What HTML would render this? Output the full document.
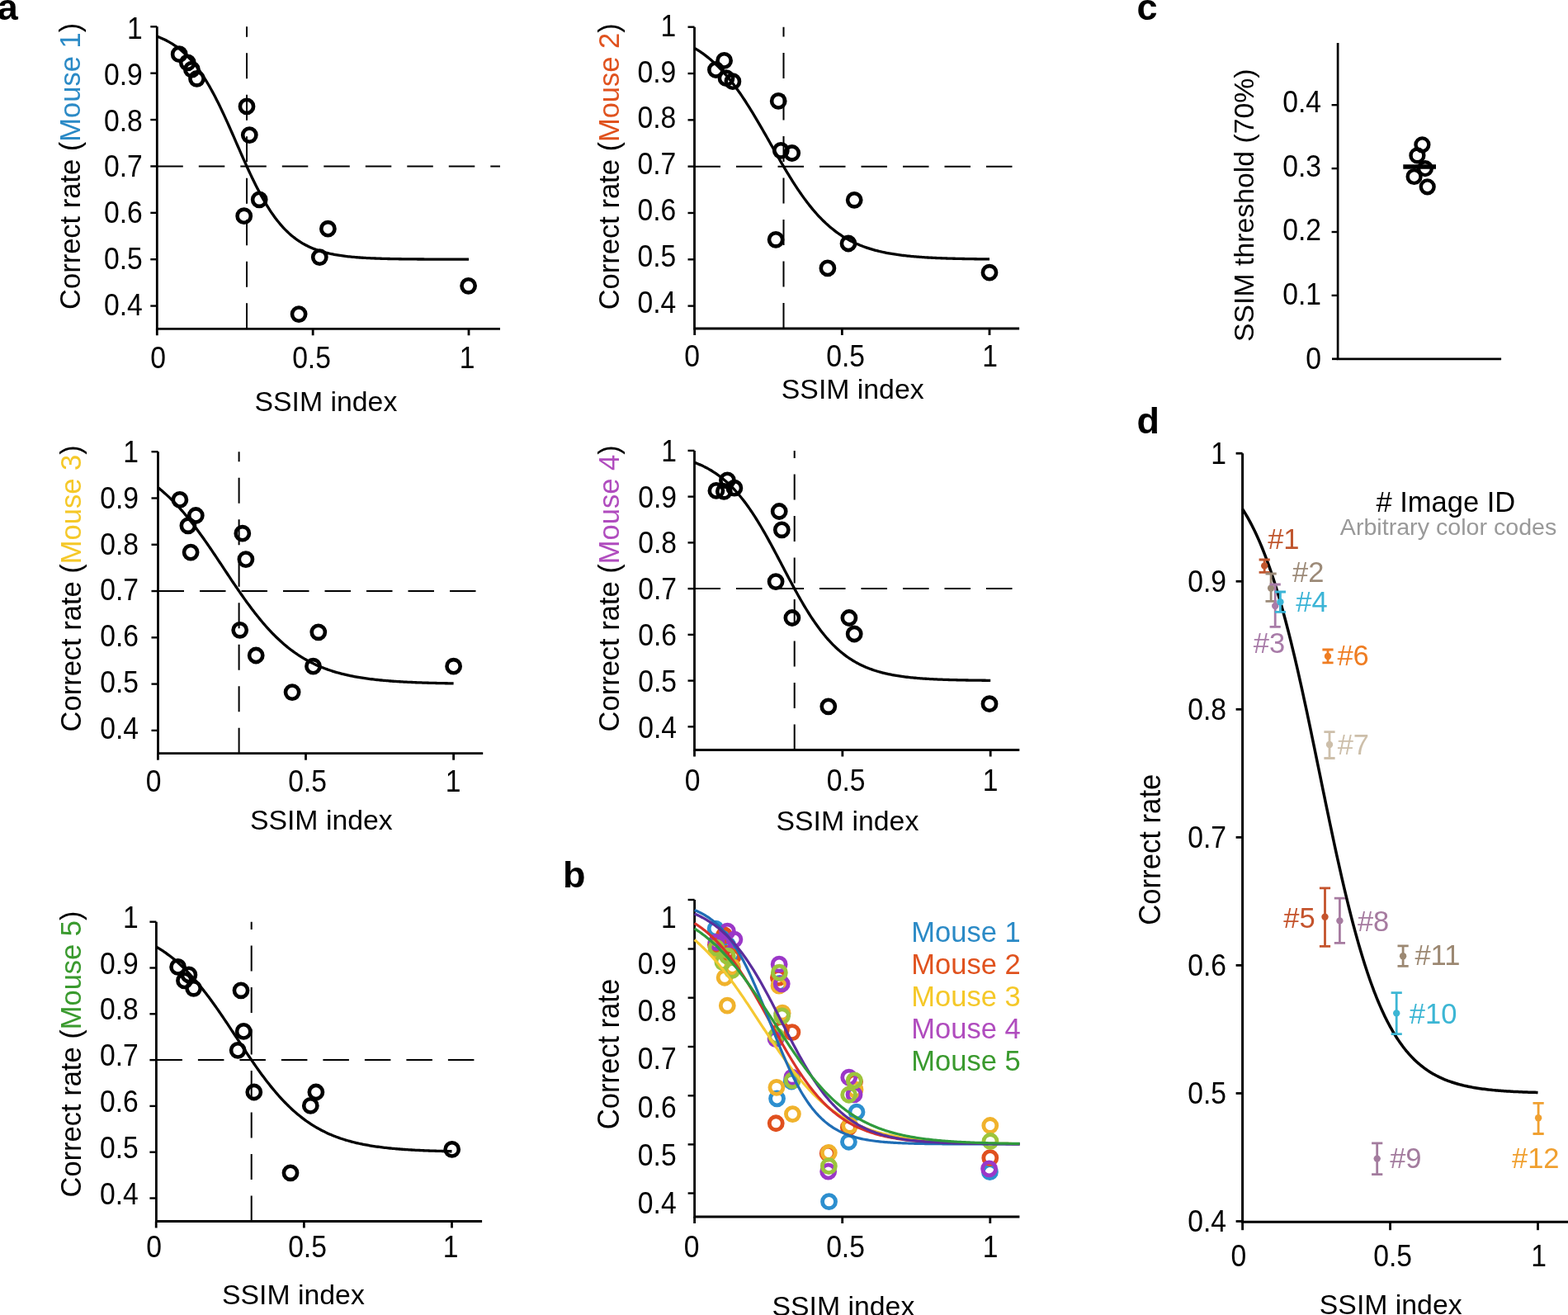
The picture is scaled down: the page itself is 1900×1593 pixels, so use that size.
<!DOCTYPE html><html><head><meta charset="utf-8"><style>html,body{margin:0;padding:0;background:#fff;overflow:hidden}svg{display:block}</style></head><body><svg width="1900" height="1593" viewBox="0 0 1900 1593" font-family='"Liberation Sans", Arial, sans-serif'>
<rect width="1900" height="1593" fill="#fff"/>
<line x1="190.3" y1="201.44" x2="606" y2="201.44" stroke="#000" stroke-width="2.0" stroke-dasharray="31.5 19"/>
<line x1="299.00" y1="398.3" x2="299.00" y2="32.3" stroke="#000" stroke-width="2.0" stroke-dasharray="31 19.5"/>
<path d="M190.3,32.3 V398.3 H606" fill="none" stroke="#000" stroke-width="2.8"/>
<line x1="182.3" y1="32.30" x2="190.3" y2="32.30" stroke="#000" stroke-width="2.4"/>
<text transform="translate(172.80 46.86) scale(0.975 1.055)" font-size="34.5" text-anchor="end">1</text>
<line x1="182.3" y1="88.68" x2="190.3" y2="88.68" stroke="#000" stroke-width="2.4"/>
<text transform="translate(172.80 102.70) scale(0.975 1.055)" font-size="34.5" text-anchor="end">0.9</text>
<line x1="182.3" y1="145.06" x2="190.3" y2="145.06" stroke="#000" stroke-width="2.4"/>
<text transform="translate(172.80 158.54) scale(0.975 1.055)" font-size="34.5" text-anchor="end">0.8</text>
<line x1="182.3" y1="201.44" x2="190.3" y2="201.44" stroke="#000" stroke-width="2.4"/>
<text transform="translate(172.80 214.38) scale(0.975 1.055)" font-size="34.5" text-anchor="end">0.7</text>
<line x1="182.3" y1="257.82" x2="190.3" y2="257.82" stroke="#000" stroke-width="2.4"/>
<text transform="translate(172.80 270.22) scale(0.975 1.055)" font-size="34.5" text-anchor="end">0.6</text>
<line x1="182.3" y1="314.20" x2="190.3" y2="314.20" stroke="#000" stroke-width="2.4"/>
<text transform="translate(172.80 326.06) scale(0.975 1.055)" font-size="34.5" text-anchor="end">0.5</text>
<line x1="182.3" y1="370.58" x2="190.3" y2="370.58" stroke="#000" stroke-width="2.4"/>
<text transform="translate(172.80 381.90) scale(0.975 1.055)" font-size="34.5" text-anchor="end">0.4</text>
<line x1="190.30" y1="398.3" x2="190.30" y2="406.3" stroke="#000" stroke-width="2.8"/>
<text transform="translate(191.70 446.30) scale(0.975 1.055)" font-size="34.5" text-anchor="middle">0</text>
<line x1="379.15" y1="398.3" x2="379.15" y2="406.3" stroke="#000" stroke-width="2.8"/>
<text transform="translate(377.50 446.30) scale(0.975 1.055)" font-size="34.5" text-anchor="middle">0.5</text>
<line x1="568.00" y1="398.3" x2="568.00" y2="406.3" stroke="#000" stroke-width="2.8"/>
<text transform="translate(566.20 446.30) scale(0.975 1.055)" font-size="34.5" text-anchor="middle">1</text>
<path d="M190.30,44.14 L192.02,44.79 L193.73,45.47 L195.45,46.19 L197.17,46.95 L198.88,47.74 L200.60,48.58 L202.32,49.45 L204.03,50.37 L205.75,51.34 L207.47,52.36 L209.19,53.42 L210.90,54.54 L212.62,55.71 L214.34,56.93 L216.05,58.22 L217.77,59.56 L219.49,60.96 L221.20,62.43 L222.92,63.97 L224.64,65.57 L226.35,67.24 L228.07,68.99 L229.79,70.81 L231.50,72.70 L233.22,74.67 L234.94,76.72 L236.65,78.84 L238.37,81.05 L240.09,83.34 L241.80,85.72 L243.52,88.17 L245.24,90.72 L246.96,93.34 L248.67,96.05 L250.39,98.85 L252.11,101.73 L253.82,104.69 L255.54,107.73 L257.26,110.85 L258.97,114.05 L260.69,117.33 L262.41,120.68 L264.12,124.10 L265.84,127.58 L267.56,131.13 L269.27,134.74 L270.99,138.41 L272.71,142.13 L274.42,145.89 L276.14,149.69 L277.86,153.53 L279.57,157.40 L281.29,161.29 L283.01,165.21 L284.73,169.13 L286.44,173.06 L288.16,176.99 L289.88,180.92 L291.59,184.83 L293.31,188.73 L295.03,192.60 L296.74,196.44 L298.46,200.25 L300.18,204.02 L301.89,207.74 L303.61,211.41 L305.33,215.02 L307.04,218.58 L308.76,222.07 L310.48,225.50 L312.19,228.86 L313.91,232.14 L315.63,235.35 L317.34,238.48 L319.06,241.53 L320.78,244.50 L322.50,247.38 L324.21,250.18 L325.93,252.90 L327.65,255.54 L329.36,258.09 L331.08,260.55 L332.80,262.93 L334.51,265.23 L336.23,267.45 L337.95,269.58 L339.66,271.64 L341.38,273.62 L343.10,275.52 L344.81,277.34 L346.53,279.09 L348.25,280.77 L349.96,282.38 L351.68,283.92 L353.40,285.40 L355.11,286.81 L356.83,288.16 L358.55,289.45 L360.26,290.68 L361.98,291.85 L363.70,292.98 L365.42,294.04 L367.13,295.06 L368.85,296.04 L370.57,296.96 L372.28,297.84 L374.00,298.68 L375.72,299.48 L377.43,300.24 L379.15,300.96 L380.87,301.65 L382.58,302.30 L384.30,302.92 L386.02,303.51 L387.73,304.07 L389.45,304.60 L391.17,305.10 L392.88,305.58 L394.60,306.04 L396.32,306.47 L398.04,306.88 L399.75,307.26 L401.47,307.63 L403.19,307.98 L404.90,308.31 L406.62,308.62 L408.34,308.92 L410.05,309.20 L411.77,309.47 L413.49,309.72 L415.20,309.96 L416.92,310.19 L418.64,310.40 L420.35,310.61 L422.07,310.80 L423.79,310.98 L425.50,311.15 L427.22,311.32 L428.94,311.47 L430.65,311.62 L432.37,311.76 L434.09,311.89 L435.81,312.01 L437.52,312.13 L439.24,312.24 L440.96,312.35 L442.67,312.45 L444.39,312.54 L446.11,312.63 L447.82,312.72 L449.54,312.80 L451.26,312.87 L452.97,312.94 L454.69,313.01 L456.41,313.08 L458.12,313.14 L459.84,313.19 L461.56,313.25 L463.27,313.30 L464.99,313.35 L466.71,313.40 L468.42,313.44 L470.14,313.48 L471.86,313.52 L473.57,313.56 L475.29,313.59 L477.01,313.62 L478.73,313.65 L480.44,313.68 L482.16,313.71 L483.88,313.74 L485.59,313.76 L487.31,313.79 L489.03,313.81 L490.74,313.83 L492.46,313.85 L494.18,313.87 L495.89,313.89 L497.61,313.90 L499.33,313.92 L501.04,313.94 L502.76,313.95 L504.48,313.96 L506.19,313.98 L507.91,313.99 L509.63,314.00 L511.34,314.01 L513.06,314.02 L514.78,314.03 L516.50,314.04 L518.21,314.05 L519.93,314.06 L521.65,314.06 L523.36,314.07 L525.08,314.08 L526.80,314.09 L528.51,314.09 L530.23,314.10 L531.95,314.10 L533.66,314.11 L535.38,314.11 L537.10,314.12 L538.81,314.12 L540.53,314.13 L542.25,314.13 L543.96,314.13 L545.68,314.14 L547.40,314.14 L549.12,314.14 L550.83,314.15 L552.55,314.15 L554.27,314.15 L555.98,314.16 L557.70,314.16 L559.42,314.16 L561.13,314.16 L562.85,314.16 L564.57,314.17 L566.28,314.17 L568.00,314.17" fill="none" stroke="#000" stroke-width="3.3"/>
<circle cx="217.2" cy="65.7" r="8.1" fill="none" stroke="#000" stroke-width="4.6"/>
<circle cx="227.3" cy="75.8" r="8.1" fill="none" stroke="#000" stroke-width="4.6"/>
<circle cx="232.4" cy="84.2" r="8.1" fill="none" stroke="#000" stroke-width="4.6"/>
<circle cx="238.5" cy="95.3" r="8.1" fill="none" stroke="#000" stroke-width="4.6"/>
<circle cx="299.0" cy="128.9" r="8.1" fill="none" stroke="#000" stroke-width="4.6"/>
<circle cx="302.3" cy="163.6" r="8.1" fill="none" stroke="#000" stroke-width="4.6"/>
<circle cx="314.2" cy="241.8" r="8.1" fill="none" stroke="#000" stroke-width="4.6"/>
<circle cx="295.7" cy="261.7" r="8.1" fill="none" stroke="#000" stroke-width="4.6"/>
<circle cx="397.4" cy="277.2" r="8.1" fill="none" stroke="#000" stroke-width="4.6"/>
<circle cx="387.3" cy="311.6" r="8.1" fill="none" stroke="#000" stroke-width="4.6"/>
<circle cx="567.6" cy="346.3" r="8.1" fill="none" stroke="#000" stroke-width="4.6"/>
<circle cx="362.1" cy="380.6" r="8.1" fill="none" stroke="#000" stroke-width="4.6"/>
<text x="97" y="374.9" font-size="34.5" transform="rotate(-90 97 374.9)">Correct rate (<tspan fill="#2B8AC6">Mouse 1</tspan>)</text>
<text x="308.5" y="498" font-size="33.8">SSIM index</text>
<line x1="841.5" y1="201.66" x2="1235.1" y2="201.66" stroke="#000" stroke-width="2.0" stroke-dasharray="31.5 19"/>
<line x1="949.50" y1="398" x2="949.50" y2="32.7" stroke="#000" stroke-width="2.0" stroke-dasharray="31 19.5"/>
<path d="M841.5,32.7 V398 H1235.1" fill="none" stroke="#000" stroke-width="2.8"/>
<line x1="833.5" y1="32.70" x2="841.5" y2="32.70" stroke="#000" stroke-width="2.4"/>
<text transform="translate(819.30 43.54) scale(0.975 1.055)" font-size="34.5" text-anchor="end">1</text>
<line x1="833.5" y1="89.02" x2="841.5" y2="89.02" stroke="#000" stroke-width="2.4"/>
<text transform="translate(819.30 99.50) scale(0.975 1.055)" font-size="34.5" text-anchor="end">0.9</text>
<line x1="833.5" y1="145.34" x2="841.5" y2="145.34" stroke="#000" stroke-width="2.4"/>
<text transform="translate(819.30 155.46) scale(0.975 1.055)" font-size="34.5" text-anchor="end">0.8</text>
<line x1="833.5" y1="201.66" x2="841.5" y2="201.66" stroke="#000" stroke-width="2.4"/>
<text transform="translate(819.30 211.42) scale(0.975 1.055)" font-size="34.5" text-anchor="end">0.7</text>
<line x1="833.5" y1="257.98" x2="841.5" y2="257.98" stroke="#000" stroke-width="2.4"/>
<text transform="translate(819.30 267.38) scale(0.975 1.055)" font-size="34.5" text-anchor="end">0.6</text>
<line x1="833.5" y1="314.30" x2="841.5" y2="314.30" stroke="#000" stroke-width="2.4"/>
<text transform="translate(819.30 323.34) scale(0.975 1.055)" font-size="34.5" text-anchor="end">0.5</text>
<line x1="833.5" y1="370.62" x2="841.5" y2="370.62" stroke="#000" stroke-width="2.4"/>
<text transform="translate(819.30 379.30) scale(0.975 1.055)" font-size="34.5" text-anchor="end">0.4</text>
<line x1="841.70" y1="398" x2="841.70" y2="406.0" stroke="#000" stroke-width="2.8"/>
<text transform="translate(838.50 443.80) scale(0.975 1.055)" font-size="34.5" text-anchor="middle">0</text>
<line x1="1020.35" y1="398" x2="1020.35" y2="406.0" stroke="#000" stroke-width="2.8"/>
<text transform="translate(1024.60 443.80) scale(0.975 1.055)" font-size="34.5" text-anchor="middle">0.5</text>
<line x1="1199.00" y1="398" x2="1199.00" y2="406.0" stroke="#000" stroke-width="2.8"/>
<text transform="translate(1199.60 443.80) scale(0.975 1.055)" font-size="34.5" text-anchor="middle">1</text>
<path d="M841.70,58.38 L843.32,59.35 L844.95,60.35 L846.57,61.38 L848.20,62.45 L849.82,63.55 L851.44,64.69 L853.07,65.86 L854.69,67.07 L856.32,68.32 L857.94,69.61 L859.57,70.93 L861.19,72.30 L862.81,73.71 L864.44,75.15 L866.06,76.64 L867.69,78.18 L869.31,79.75 L870.93,81.37 L872.56,83.03 L874.18,84.74 L875.81,86.49 L877.43,88.29 L879.05,90.13 L880.68,92.01 L882.30,93.94 L883.93,95.92 L885.55,97.94 L887.17,100.00 L888.80,102.11 L890.42,104.26 L892.05,106.46 L893.67,108.70 L895.30,110.98 L896.92,113.31 L898.54,115.67 L900.17,118.07 L901.79,120.52 L903.42,123.00 L905.04,125.52 L906.66,128.07 L908.29,130.66 L909.91,133.27 L911.54,135.92 L913.16,138.60 L914.78,141.31 L916.41,144.04 L918.03,146.79 L919.66,149.57 L921.28,152.36 L922.90,155.18 L924.53,158.00 L926.15,160.84 L927.78,163.69 L929.40,166.55 L931.03,169.41 L932.65,172.28 L934.27,175.15 L935.90,178.02 L937.52,180.88 L939.15,183.74 L940.77,186.59 L942.39,189.42 L944.02,192.25 L945.64,195.06 L947.27,197.85 L948.89,200.62 L950.51,203.38 L952.14,206.10 L953.76,208.80 L955.39,211.48 L957.01,214.12 L958.63,216.74 L960.26,219.32 L961.88,221.87 L963.51,224.38 L965.13,226.85 L966.75,229.29 L968.38,231.69 L970.00,234.05 L971.63,236.37 L973.25,238.64 L974.88,240.87 L976.50,243.06 L978.12,245.21 L979.75,247.31 L981.37,249.37 L983.00,251.38 L984.62,253.35 L986.24,255.28 L987.87,257.15 L989.49,258.99 L991.12,260.78 L992.74,262.52 L994.36,264.22 L995.99,265.88 L997.61,267.49 L999.24,269.06 L1000.86,270.58 L1002.49,272.07 L1004.11,273.51 L1005.73,274.91 L1007.36,276.27 L1008.98,277.59 L1010.61,278.87 L1012.23,280.11 L1013.85,281.32 L1015.48,282.49 L1017.10,283.62 L1018.73,284.72 L1020.35,285.78 L1021.97,286.80 L1023.60,287.80 L1025.22,288.76 L1026.85,289.69 L1028.47,290.59 L1030.09,291.46 L1031.72,292.30 L1033.34,293.11 L1034.97,293.90 L1036.59,294.66 L1038.22,295.39 L1039.84,296.09 L1041.46,296.78 L1043.09,297.43 L1044.71,298.07 L1046.34,298.68 L1047.96,299.27 L1049.58,299.84 L1051.21,300.39 L1052.83,300.92 L1054.46,301.43 L1056.08,301.92 L1057.70,302.39 L1059.33,302.85 L1060.95,303.29 L1062.58,303.71 L1064.20,304.12 L1065.82,304.51 L1067.45,304.89 L1069.07,305.25 L1070.70,305.60 L1072.32,305.94 L1073.95,306.26 L1075.57,306.58 L1077.19,306.88 L1078.82,307.17 L1080.44,307.44 L1082.07,307.71 L1083.69,307.97 L1085.31,308.22 L1086.94,308.45 L1088.56,308.68 L1090.19,308.90 L1091.81,309.11 L1093.43,309.32 L1095.06,309.51 L1096.68,309.70 L1098.31,309.88 L1099.93,310.05 L1101.55,310.22 L1103.18,310.38 L1104.80,310.54 L1106.43,310.69 L1108.05,310.83 L1109.68,310.96 L1111.30,311.10 L1112.92,311.22 L1114.55,311.34 L1116.17,311.46 L1117.80,311.57 L1119.42,311.68 L1121.04,311.78 L1122.67,311.88 L1124.29,311.98 L1125.92,312.07 L1127.54,312.16 L1129.16,312.25 L1130.79,312.33 L1132.41,312.40 L1134.04,312.48 L1135.66,312.55 L1137.28,312.62 L1138.91,312.69 L1140.53,312.75 L1142.16,312.81 L1143.78,312.87 L1145.40,312.93 L1147.03,312.98 L1148.65,313.04 L1150.28,313.09 L1151.90,313.13 L1153.53,313.18 L1155.15,313.23 L1156.77,313.27 L1158.40,313.31 L1160.02,313.35 L1161.65,313.39 L1163.27,313.42 L1164.89,313.46 L1166.52,313.49 L1168.14,313.52 L1169.77,313.55 L1171.39,313.58 L1173.01,313.61 L1174.64,313.64 L1176.26,313.67 L1177.89,313.69 L1179.51,313.72 L1181.13,313.74 L1182.76,313.76 L1184.38,313.78 L1186.01,313.80 L1187.63,313.82 L1189.26,313.84 L1190.88,313.86 L1192.50,313.88 L1194.13,313.89 L1195.75,313.91 L1197.38,313.93 L1199.00,313.94" fill="none" stroke="#000" stroke-width="3.3"/>
<circle cx="867.4" cy="84.5" r="8.1" fill="none" stroke="#000" stroke-width="4.6"/>
<circle cx="877.6" cy="73.4" r="8.1" fill="none" stroke="#000" stroke-width="4.6"/>
<circle cx="880.0" cy="94.7" r="8.1" fill="none" stroke="#000" stroke-width="4.6"/>
<circle cx="887.9" cy="98.7" r="8.1" fill="none" stroke="#000" stroke-width="4.6"/>
<circle cx="943.2" cy="122.4" r="8.1" fill="none" stroke="#000" stroke-width="4.6"/>
<circle cx="946.3" cy="182.4" r="8.1" fill="none" stroke="#000" stroke-width="4.6"/>
<circle cx="959.7" cy="185.5" r="8.1" fill="none" stroke="#000" stroke-width="4.6"/>
<circle cx="1035.2" cy="242.3" r="8.1" fill="none" stroke="#000" stroke-width="4.6"/>
<circle cx="940.1" cy="290.3" r="8.1" fill="none" stroke="#000" stroke-width="4.6"/>
<circle cx="1028" cy="295" r="8.1" fill="none" stroke="#000" stroke-width="4.6"/>
<circle cx="1002.9" cy="324.9" r="8.1" fill="none" stroke="#000" stroke-width="4.6"/>
<circle cx="1199" cy="330.2" r="8.1" fill="none" stroke="#000" stroke-width="4.6"/>
<text x="750.0" y="375.3" font-size="34.5" transform="rotate(-90 750.0 375.3)">Correct rate (<tspan fill="#E0521E">Mouse 2</tspan>)</text>
<text x="946.8" y="482.6" font-size="33.8">SSIM index</text>
<line x1="191.5" y1="716.04" x2="585.2" y2="716.04" stroke="#000" stroke-width="2.0" stroke-dasharray="31.5 19"/>
<line x1="289.60" y1="912.7" x2="289.60" y2="547.2" stroke="#000" stroke-width="2.0" stroke-dasharray="31 19.5"/>
<path d="M191.5,547.2 V912.7 H585.2" fill="none" stroke="#000" stroke-width="2.8"/>
<line x1="183.5" y1="547.20" x2="191.5" y2="547.20" stroke="#000" stroke-width="2.4"/>
<text transform="translate(168.00 559.84) scale(0.975 1.055)" font-size="34.5" text-anchor="end">1</text>
<line x1="183.5" y1="603.48" x2="191.5" y2="603.48" stroke="#000" stroke-width="2.4"/>
<text transform="translate(168.00 615.70) scale(0.975 1.055)" font-size="34.5" text-anchor="end">0.9</text>
<line x1="183.5" y1="659.76" x2="191.5" y2="659.76" stroke="#000" stroke-width="2.4"/>
<text transform="translate(168.00 671.56) scale(0.975 1.055)" font-size="34.5" text-anchor="end">0.8</text>
<line x1="183.5" y1="716.04" x2="191.5" y2="716.04" stroke="#000" stroke-width="2.4"/>
<text transform="translate(168.00 727.42) scale(0.975 1.055)" font-size="34.5" text-anchor="end">0.7</text>
<line x1="183.5" y1="772.32" x2="191.5" y2="772.32" stroke="#000" stroke-width="2.4"/>
<text transform="translate(168.00 783.28) scale(0.975 1.055)" font-size="34.5" text-anchor="end">0.6</text>
<line x1="183.5" y1="828.60" x2="191.5" y2="828.60" stroke="#000" stroke-width="2.4"/>
<text transform="translate(168.00 839.14) scale(0.975 1.055)" font-size="34.5" text-anchor="end">0.5</text>
<line x1="183.5" y1="884.88" x2="191.5" y2="884.88" stroke="#000" stroke-width="2.4"/>
<text transform="translate(168.00 895.00) scale(0.975 1.055)" font-size="34.5" text-anchor="end">0.4</text>
<line x1="191.40" y1="912.7" x2="191.40" y2="920.7" stroke="#000" stroke-width="2.8"/>
<text transform="translate(186.20 959.00) scale(0.975 1.055)" font-size="34.5" text-anchor="middle">0</text>
<line x1="370.50" y1="912.7" x2="370.50" y2="920.7" stroke="#000" stroke-width="2.8"/>
<text transform="translate(372.50 959.00) scale(0.975 1.055)" font-size="34.5" text-anchor="middle">0.5</text>
<line x1="549.60" y1="912.7" x2="549.60" y2="920.7" stroke="#000" stroke-width="2.8"/>
<text transform="translate(549.00 959.00) scale(0.975 1.055)" font-size="34.5" text-anchor="middle">1</text>
<path d="M191.40,590.59 L193.03,591.89 L194.66,593.22 L196.28,594.58 L197.91,595.97 L199.54,597.40 L201.17,598.86 L202.80,600.35 L204.43,601.87 L206.05,603.42 L207.68,605.01 L209.31,606.63 L210.94,608.29 L212.57,609.98 L214.19,611.70 L215.82,613.45 L217.45,615.24 L219.08,617.06 L220.71,618.91 L222.34,620.79 L223.96,622.70 L225.59,624.65 L227.22,626.63 L228.85,628.63 L230.48,630.67 L232.10,632.74 L233.73,634.83 L235.36,636.95 L236.99,639.10 L238.62,641.28 L240.25,643.48 L241.87,645.71 L243.50,647.95 L245.13,650.22 L246.76,652.52 L248.39,654.83 L250.01,657.16 L251.64,659.51 L253.27,661.88 L254.90,664.26 L256.53,666.65 L258.16,669.06 L259.78,671.48 L261.41,673.91 L263.04,676.35 L264.67,678.80 L266.30,681.25 L267.92,683.70 L269.55,686.16 L271.18,688.62 L272.81,691.07 L274.44,693.53 L276.07,695.98 L277.69,698.43 L279.32,700.87 L280.95,703.30 L282.58,705.73 L284.21,708.14 L285.83,710.54 L287.46,712.93 L289.09,715.30 L290.72,717.66 L292.35,720.00 L293.98,722.32 L295.60,724.62 L297.23,726.90 L298.86,729.16 L300.49,731.39 L302.12,733.60 L303.74,735.79 L305.37,737.95 L307.00,740.08 L308.63,742.19 L310.26,744.27 L311.89,746.32 L313.51,748.34 L315.14,750.33 L316.77,752.29 L318.40,754.21 L320.03,756.11 L321.65,757.97 L323.28,759.81 L324.91,761.61 L326.54,763.37 L328.17,765.11 L329.80,766.81 L331.42,768.48 L333.05,770.11 L334.68,771.72 L336.31,773.29 L337.94,774.82 L339.56,776.33 L341.19,777.80 L342.82,779.24 L344.45,780.64 L346.08,782.02 L347.71,783.36 L349.33,784.67 L350.96,785.95 L352.59,787.20 L354.22,788.42 L355.85,789.61 L357.47,790.76 L359.10,791.89 L360.73,793.00 L362.36,794.07 L363.99,795.11 L365.62,796.13 L367.24,797.12 L368.87,798.08 L370.50,799.02 L372.13,799.93 L373.76,800.82 L375.38,801.68 L377.01,802.52 L378.64,803.34 L380.27,804.13 L381.90,804.90 L383.53,805.65 L385.15,806.37 L386.78,807.08 L388.41,807.76 L390.04,808.43 L391.67,809.07 L393.29,809.70 L394.92,810.30 L396.55,810.89 L398.18,811.46 L399.81,812.02 L401.44,812.55 L403.06,813.07 L404.69,813.58 L406.32,814.07 L407.95,814.54 L409.58,815.00 L411.20,815.45 L412.83,815.88 L414.46,816.30 L416.09,816.70 L417.72,817.09 L419.35,817.47 L420.97,817.84 L422.60,818.20 L424.23,818.54 L425.86,818.87 L427.49,819.20 L429.11,819.51 L430.74,819.81 L432.37,820.10 L434.00,820.39 L435.63,820.66 L437.26,820.93 L438.88,821.18 L440.51,821.43 L442.14,821.67 L443.77,821.90 L445.40,822.13 L447.02,822.35 L448.65,822.56 L450.28,822.76 L451.91,822.96 L453.54,823.15 L455.17,823.33 L456.79,823.51 L458.42,823.68 L460.05,823.85 L461.68,824.01 L463.31,824.16 L464.93,824.31 L466.56,824.46 L468.19,824.60 L469.82,824.73 L471.45,824.86 L473.08,824.99 L474.70,825.11 L476.33,825.23 L477.96,825.34 L479.59,825.46 L481.22,825.56 L482.84,825.67 L484.47,825.77 L486.10,825.86 L487.73,825.95 L489.36,826.04 L490.99,826.13 L492.61,826.22 L494.24,826.30 L495.87,826.38 L497.50,826.45 L499.13,826.52 L500.75,826.60 L502.38,826.66 L504.01,826.73 L505.64,826.79 L507.27,826.86 L508.90,826.91 L510.52,826.97 L512.15,827.03 L513.78,827.08 L515.41,827.13 L517.04,827.18 L518.66,827.23 L520.29,827.28 L521.92,827.32 L523.55,827.37 L525.18,827.41 L526.81,827.45 L528.43,827.49 L530.06,827.53 L531.69,827.56 L533.32,827.60 L534.95,827.63 L536.57,827.67 L538.20,827.70 L539.83,827.73 L541.46,827.76 L543.09,827.79 L544.72,827.82 L546.34,827.84 L547.97,827.87 L549.60,827.89" fill="none" stroke="#000" stroke-width="3.3"/>
<circle cx="217.9" cy="605.4" r="8.1" fill="none" stroke="#000" stroke-width="4.6"/>
<circle cx="237.3" cy="624.5" r="8.1" fill="none" stroke="#000" stroke-width="4.6"/>
<circle cx="227.9" cy="636.8" r="8.1" fill="none" stroke="#000" stroke-width="4.6"/>
<circle cx="231.1" cy="669.1" r="8.1" fill="none" stroke="#000" stroke-width="4.6"/>
<circle cx="293.8" cy="646.2" r="8.1" fill="none" stroke="#000" stroke-width="4.6"/>
<circle cx="297.9" cy="677.6" r="8.1" fill="none" stroke="#000" stroke-width="4.6"/>
<circle cx="290.7" cy="763.3" r="8.1" fill="none" stroke="#000" stroke-width="4.6"/>
<circle cx="310.2" cy="794" r="8.1" fill="none" stroke="#000" stroke-width="4.6"/>
<circle cx="385.8" cy="765.8" r="8.1" fill="none" stroke="#000" stroke-width="4.6"/>
<circle cx="379.5" cy="807.2" r="8.1" fill="none" stroke="#000" stroke-width="4.6"/>
<circle cx="354.1" cy="838.6" r="8.1" fill="none" stroke="#000" stroke-width="4.6"/>
<circle cx="549.6" cy="807.2" r="8.1" fill="none" stroke="#000" stroke-width="4.6"/>
<text x="97.6" y="886.4" font-size="34.5" transform="rotate(-90 97.6 886.4)">Correct rate (<tspan fill="#F5C828">Mouse 3</tspan>)</text>
<text x="302.9" y="1004.6" font-size="33.8">SSIM index</text>
<line x1="841.5" y1="713.12" x2="1235.3" y2="713.12" stroke="#000" stroke-width="2.0" stroke-dasharray="31.5 19"/>
<line x1="962.70" y1="908.5" x2="962.70" y2="545.9" stroke="#000" stroke-width="2.0" stroke-dasharray="31 19.5"/>
<path d="M841.5,545.9 V908.5 H1235.3" fill="none" stroke="#000" stroke-width="2.8"/>
<line x1="833.5" y1="545.90" x2="841.5" y2="545.90" stroke="#000" stroke-width="2.4"/>
<text transform="translate(820.00 558.64) scale(0.975 1.055)" font-size="34.5" text-anchor="end">1</text>
<line x1="833.5" y1="601.64" x2="841.5" y2="601.64" stroke="#000" stroke-width="2.4"/>
<text transform="translate(820.00 614.50) scale(0.975 1.055)" font-size="34.5" text-anchor="end">0.9</text>
<line x1="833.5" y1="657.38" x2="841.5" y2="657.38" stroke="#000" stroke-width="2.4"/>
<text transform="translate(820.00 670.36) scale(0.975 1.055)" font-size="34.5" text-anchor="end">0.8</text>
<line x1="833.5" y1="713.12" x2="841.5" y2="713.12" stroke="#000" stroke-width="2.4"/>
<text transform="translate(820.00 726.22) scale(0.975 1.055)" font-size="34.5" text-anchor="end">0.7</text>
<line x1="833.5" y1="768.86" x2="841.5" y2="768.86" stroke="#000" stroke-width="2.4"/>
<text transform="translate(820.00 782.08) scale(0.975 1.055)" font-size="34.5" text-anchor="end">0.6</text>
<line x1="833.5" y1="824.60" x2="841.5" y2="824.60" stroke="#000" stroke-width="2.4"/>
<text transform="translate(820.00 837.94) scale(0.975 1.055)" font-size="34.5" text-anchor="end">0.5</text>
<line x1="833.5" y1="880.34" x2="841.5" y2="880.34" stroke="#000" stroke-width="2.4"/>
<text transform="translate(820.00 893.80) scale(0.975 1.055)" font-size="34.5" text-anchor="end">0.4</text>
<line x1="841.50" y1="908.5" x2="841.50" y2="916.5" stroke="#000" stroke-width="2.8"/>
<text transform="translate(839.00 958.00) scale(0.975 1.055)" font-size="34.5" text-anchor="middle">0</text>
<line x1="1020.85" y1="908.5" x2="1020.85" y2="916.5" stroke="#000" stroke-width="2.8"/>
<text transform="translate(1025.10 958.00) scale(0.975 1.055)" font-size="34.5" text-anchor="middle">0.5</text>
<line x1="1200.20" y1="908.5" x2="1200.20" y2="916.5" stroke="#000" stroke-width="2.8"/>
<text transform="translate(1200.10 958.00) scale(0.975 1.055)" font-size="34.5" text-anchor="middle">1</text>
<path d="M841.50,560.23 L843.13,560.84 L844.76,561.49 L846.39,562.16 L848.02,562.86 L849.65,563.58 L851.28,564.34 L852.91,565.12 L854.54,565.94 L856.17,566.78 L857.80,567.66 L859.43,568.58 L861.07,569.52 L862.70,570.51 L864.33,571.53 L865.96,572.59 L867.59,573.69 L869.22,574.82 L870.85,576.00 L872.48,577.22 L874.11,578.49 L875.74,579.79 L877.37,581.15 L879.00,582.55 L880.63,583.99 L882.26,585.48 L883.89,587.03 L885.52,588.62 L887.15,590.26 L888.78,591.95 L890.41,593.69 L892.04,595.49 L893.67,597.34 L895.30,599.24 L896.94,601.19 L898.57,603.20 L900.20,605.26 L901.83,607.37 L903.46,609.54 L905.09,611.76 L906.72,614.03 L908.35,616.36 L909.98,618.73 L911.61,621.16 L913.24,623.64 L914.87,626.17 L916.50,628.75 L918.13,631.37 L919.76,634.04 L921.39,636.76 L923.02,639.51 L924.65,642.31 L926.28,645.15 L927.91,648.02 L929.54,650.93 L931.17,653.87 L932.81,656.83 L934.44,659.83 L936.07,662.85 L937.70,665.89 L939.33,668.96 L940.96,672.03 L942.59,675.12 L944.22,678.22 L945.85,681.33 L947.48,684.44 L949.11,687.56 L950.74,690.67 L952.37,693.77 L954.00,696.87 L955.63,699.95 L957.26,703.02 L958.89,706.08 L960.52,709.11 L962.15,712.12 L963.78,715.10 L965.41,718.06 L967.04,720.98 L968.68,723.87 L970.31,726.73 L971.94,729.54 L973.57,732.32 L975.20,735.06 L976.83,737.75 L978.46,740.40 L980.09,743.00 L981.72,745.56 L983.35,748.06 L984.98,750.52 L986.61,752.92 L988.24,755.27 L989.87,757.57 L991.50,759.82 L993.13,762.02 L994.76,764.16 L996.39,766.24 L998.02,768.28 L999.65,770.26 L1001.28,772.19 L1002.91,774.06 L1004.55,775.88 L1006.18,777.65 L1007.81,779.37 L1009.44,781.04 L1011.07,782.66 L1012.70,784.22 L1014.33,785.74 L1015.96,787.21 L1017.59,788.63 L1019.22,790.01 L1020.85,791.34 L1022.48,792.63 L1024.11,793.87 L1025.74,795.07 L1027.37,796.23 L1029.00,797.35 L1030.63,798.43 L1032.26,799.47 L1033.89,800.47 L1035.52,801.44 L1037.15,802.37 L1038.79,803.27 L1040.42,804.13 L1042.05,804.96 L1043.68,805.76 L1045.31,806.53 L1046.94,807.27 L1048.57,807.98 L1050.20,808.67 L1051.83,809.32 L1053.46,809.96 L1055.09,810.56 L1056.72,811.15 L1058.35,811.71 L1059.98,812.25 L1061.61,812.76 L1063.24,813.26 L1064.87,813.74 L1066.50,814.19 L1068.13,814.63 L1069.76,815.05 L1071.39,815.46 L1073.02,815.84 L1074.65,816.21 L1076.29,816.57 L1077.92,816.91 L1079.55,817.24 L1081.18,817.55 L1082.81,817.85 L1084.44,818.14 L1086.07,818.42 L1087.70,818.68 L1089.33,818.93 L1090.96,819.18 L1092.59,819.41 L1094.22,819.63 L1095.85,819.84 L1097.48,820.05 L1099.11,820.25 L1100.74,820.43 L1102.37,820.61 L1104.00,820.78 L1105.63,820.95 L1107.26,821.11 L1108.89,821.26 L1110.53,821.40 L1112.16,821.54 L1113.79,821.67 L1115.42,821.80 L1117.05,821.92 L1118.68,822.04 L1120.31,822.15 L1121.94,822.25 L1123.57,822.35 L1125.20,822.45 L1126.83,822.55 L1128.46,822.63 L1130.09,822.72 L1131.72,822.80 L1133.35,822.88 L1134.98,822.95 L1136.61,823.03 L1138.24,823.09 L1139.87,823.16 L1141.50,823.22 L1143.13,823.28 L1144.76,823.34 L1146.39,823.39 L1148.03,823.45 L1149.66,823.50 L1151.29,823.54 L1152.92,823.59 L1154.55,823.63 L1156.18,823.68 L1157.81,823.72 L1159.44,823.76 L1161.07,823.79 L1162.70,823.83 L1164.33,823.86 L1165.96,823.89 L1167.59,823.92 L1169.22,823.95 L1170.85,823.98 L1172.48,824.01 L1174.11,824.03 L1175.74,824.06 L1177.37,824.08 L1179.00,824.11 L1180.63,824.13 L1182.26,824.15 L1183.90,824.17 L1185.53,824.19 L1187.16,824.20 L1188.79,824.22 L1190.42,824.24 L1192.05,824.25 L1193.68,824.27 L1195.31,824.28 L1196.94,824.30 L1198.57,824.31 L1200.20,824.32" fill="none" stroke="#000" stroke-width="3.3"/>
<circle cx="867.9" cy="594.4" r="8.1" fill="none" stroke="#000" stroke-width="4.6"/>
<circle cx="877.3" cy="595.3" r="8.1" fill="none" stroke="#000" stroke-width="4.6"/>
<circle cx="881.4" cy="581.8" r="8.1" fill="none" stroke="#000" stroke-width="4.6"/>
<circle cx="889.9" cy="591.2" r="8.1" fill="none" stroke="#000" stroke-width="4.6"/>
<circle cx="944.2" cy="619.5" r="8.1" fill="none" stroke="#000" stroke-width="4.6"/>
<circle cx="947.3" cy="641.8" r="8.1" fill="none" stroke="#000" stroke-width="4.6"/>
<circle cx="940.1" cy="704.6" r="8.1" fill="none" stroke="#000" stroke-width="4.6"/>
<circle cx="959.9" cy="748.5" r="8.1" fill="none" stroke="#000" stroke-width="4.6"/>
<circle cx="1028.9" cy="748.5" r="8.1" fill="none" stroke="#000" stroke-width="4.6"/>
<circle cx="1035.2" cy="768" r="8.1" fill="none" stroke="#000" stroke-width="4.6"/>
<circle cx="1003.8" cy="855.8" r="8.1" fill="none" stroke="#000" stroke-width="4.6"/>
<circle cx="1199" cy="852.7" r="8.1" fill="none" stroke="#000" stroke-width="4.6"/>
<text x="749.9" y="886.4" font-size="34.5" transform="rotate(-90 749.9 886.4)">Correct rate (<tspan fill="#B04CBE">Mouse 4</tspan>)</text>
<text x="940.5" y="1005.7" font-size="33.8">SSIM index</text>
<line x1="189.4" y1="1284.10" x2="584.1" y2="1284.10" stroke="#000" stroke-width="2.0" stroke-dasharray="31.5 19"/>
<line x1="304.70" y1="1479.5" x2="304.70" y2="1116.7" stroke="#000" stroke-width="2.0" stroke-dasharray="31 19.5"/>
<path d="M189.4,1116.7 V1479.5 H584.1" fill="none" stroke="#000" stroke-width="2.8"/>
<line x1="181.4" y1="1116.70" x2="189.4" y2="1116.70" stroke="#000" stroke-width="2.4"/>
<text transform="translate(167.80 1123.62) scale(0.975 1.055)" font-size="34.5" text-anchor="end">1</text>
<line x1="181.4" y1="1172.50" x2="189.4" y2="1172.50" stroke="#000" stroke-width="2.4"/>
<text transform="translate(167.80 1179.50) scale(0.975 1.055)" font-size="34.5" text-anchor="end">0.9</text>
<line x1="181.4" y1="1228.30" x2="189.4" y2="1228.30" stroke="#000" stroke-width="2.4"/>
<text transform="translate(167.80 1235.38) scale(0.975 1.055)" font-size="34.5" text-anchor="end">0.8</text>
<line x1="181.4" y1="1284.10" x2="189.4" y2="1284.10" stroke="#000" stroke-width="2.4"/>
<text transform="translate(167.80 1291.26) scale(0.975 1.055)" font-size="34.5" text-anchor="end">0.7</text>
<line x1="181.4" y1="1339.90" x2="189.4" y2="1339.90" stroke="#000" stroke-width="2.4"/>
<text transform="translate(167.80 1347.14) scale(0.975 1.055)" font-size="34.5" text-anchor="end">0.6</text>
<line x1="181.4" y1="1395.70" x2="189.4" y2="1395.70" stroke="#000" stroke-width="2.4"/>
<text transform="translate(167.80 1403.02) scale(0.975 1.055)" font-size="34.5" text-anchor="end">0.5</text>
<line x1="181.4" y1="1451.50" x2="189.4" y2="1451.50" stroke="#000" stroke-width="2.4"/>
<text transform="translate(167.80 1458.90) scale(0.975 1.055)" font-size="34.5" text-anchor="end">0.4</text>
<line x1="189.20" y1="1479.5" x2="189.20" y2="1487.5" stroke="#000" stroke-width="2.8"/>
<text transform="translate(186.50 1522.70) scale(0.975 1.055)" font-size="34.5" text-anchor="middle">0</text>
<line x1="368.35" y1="1479.5" x2="368.35" y2="1487.5" stroke="#000" stroke-width="2.8"/>
<text transform="translate(372.50 1522.70) scale(0.975 1.055)" font-size="34.5" text-anchor="middle">0.5</text>
<line x1="547.50" y1="1479.5" x2="547.50" y2="1487.5" stroke="#000" stroke-width="2.8"/>
<text transform="translate(546.20 1522.70) scale(0.975 1.055)" font-size="34.5" text-anchor="middle">1</text>
<path d="M189.20,1146.83 L190.83,1147.80 L192.46,1148.79 L194.09,1149.82 L195.71,1150.87 L197.34,1151.94 L198.97,1153.05 L200.60,1154.19 L202.23,1155.35 L203.86,1156.55 L205.49,1157.78 L207.11,1159.04 L208.74,1160.33 L210.37,1161.65 L212.00,1163.00 L213.63,1164.39 L215.26,1165.81 L216.89,1167.26 L218.52,1168.75 L220.14,1170.27 L221.77,1171.82 L223.40,1173.41 L225.03,1175.03 L226.66,1176.68 L228.29,1178.37 L229.92,1180.09 L231.54,1181.85 L233.17,1183.64 L234.80,1185.46 L236.43,1187.31 L238.06,1189.20 L239.69,1191.12 L241.32,1193.08 L242.94,1195.06 L244.57,1197.07 L246.20,1199.12 L247.83,1201.20 L249.46,1203.30 L251.09,1205.44 L252.72,1207.60 L254.35,1209.78 L255.97,1212.00 L257.60,1214.24 L259.23,1216.50 L260.86,1218.79 L262.49,1221.10 L264.12,1223.42 L265.75,1225.77 L267.37,1228.14 L269.00,1230.52 L270.63,1232.92 L272.26,1235.33 L273.89,1237.76 L275.52,1240.20 L277.15,1242.65 L278.77,1245.10 L280.40,1247.56 L282.03,1250.03 L283.66,1252.51 L285.29,1254.98 L286.92,1257.45 L288.55,1259.93 L290.18,1262.40 L291.80,1264.87 L293.43,1267.33 L295.06,1269.79 L296.69,1272.24 L298.32,1274.67 L299.95,1277.10 L301.58,1279.51 L303.20,1281.91 L304.83,1284.29 L306.46,1286.66 L308.09,1289.01 L309.72,1291.34 L311.35,1293.64 L312.98,1295.93 L314.61,1298.19 L316.23,1300.43 L317.86,1302.65 L319.49,1304.83 L321.12,1306.99 L322.75,1309.13 L324.38,1311.23 L326.01,1313.31 L327.63,1315.35 L329.26,1317.37 L330.89,1319.35 L332.52,1321.30 L334.15,1323.22 L335.78,1325.11 L337.41,1326.97 L339.03,1328.79 L340.66,1330.58 L342.29,1332.33 L343.92,1334.05 L345.55,1335.74 L347.18,1337.39 L348.81,1339.01 L350.44,1340.60 L352.06,1342.15 L353.69,1343.67 L355.32,1345.16 L356.95,1346.61 L358.58,1348.03 L360.21,1349.41 L361.84,1350.77 L363.46,1352.09 L365.09,1353.38 L366.72,1354.64 L368.35,1355.87 L369.98,1357.06 L371.61,1358.23 L373.24,1359.36 L374.86,1360.47 L376.49,1361.55 L378.12,1362.60 L379.75,1363.62 L381.38,1364.61 L383.01,1365.58 L384.64,1366.52 L386.26,1367.44 L387.89,1368.32 L389.52,1369.19 L391.15,1370.03 L392.78,1370.84 L394.41,1371.63 L396.04,1372.40 L397.67,1373.15 L399.29,1373.88 L400.92,1374.58 L402.55,1375.26 L404.18,1375.92 L405.81,1376.57 L407.44,1377.19 L409.07,1377.79 L410.69,1378.38 L412.32,1378.95 L413.95,1379.50 L415.58,1380.03 L417.21,1380.55 L418.84,1381.05 L420.47,1381.53 L422.10,1382.00 L423.72,1382.46 L425.35,1382.90 L426.98,1383.32 L428.61,1383.74 L430.24,1384.14 L431.87,1384.52 L433.50,1384.90 L435.12,1385.26 L436.75,1385.61 L438.38,1385.95 L440.01,1386.28 L441.64,1386.60 L443.27,1386.90 L444.90,1387.20 L446.52,1387.49 L448.15,1387.77 L449.78,1388.04 L451.41,1388.30 L453.04,1388.55 L454.67,1388.79 L456.30,1389.03 L457.93,1389.25 L459.55,1389.47 L461.18,1389.69 L462.81,1389.89 L464.44,1390.09 L466.07,1390.28 L467.70,1390.47 L469.33,1390.65 L470.95,1390.82 L472.58,1390.99 L474.21,1391.15 L475.84,1391.30 L477.47,1391.46 L479.10,1391.60 L480.73,1391.74 L482.35,1391.88 L483.98,1392.01 L485.61,1392.14 L487.24,1392.26 L488.87,1392.38 L490.50,1392.49 L492.13,1392.60 L493.75,1392.71 L495.38,1392.81 L497.01,1392.91 L498.64,1393.01 L500.27,1393.10 L501.90,1393.19 L503.53,1393.28 L505.16,1393.36 L506.78,1393.44 L508.41,1393.52 L510.04,1393.60 L511.67,1393.67 L513.30,1393.74 L514.93,1393.81 L516.56,1393.87 L518.18,1393.94 L519.81,1394.00 L521.44,1394.06 L523.07,1394.11 L524.70,1394.17 L526.33,1394.22 L527.96,1394.27 L529.59,1394.32 L531.21,1394.37 L532.84,1394.42 L534.47,1394.46 L536.10,1394.50 L537.73,1394.55 L539.36,1394.59 L540.99,1394.62 L542.61,1394.66 L544.24,1394.70 L545.87,1394.73 L547.50,1394.77" fill="none" stroke="#000" stroke-width="3.3"/>
<circle cx="215.6" cy="1171.4" r="8.1" fill="none" stroke="#000" stroke-width="4.6"/>
<circle cx="223.5" cy="1187.9" r="8.1" fill="none" stroke="#000" stroke-width="4.6"/>
<circle cx="228.9" cy="1180.9" r="8.1" fill="none" stroke="#000" stroke-width="4.6"/>
<circle cx="234.6" cy="1197.3" r="8.1" fill="none" stroke="#000" stroke-width="4.6"/>
<circle cx="292" cy="1199.8" r="8.1" fill="none" stroke="#000" stroke-width="4.6"/>
<circle cx="295.2" cy="1249.4" r="8.1" fill="none" stroke="#000" stroke-width="4.6"/>
<circle cx="288.2" cy="1272.4" r="8.1" fill="none" stroke="#000" stroke-width="4.6"/>
<circle cx="307.8" cy="1323" r="8.1" fill="none" stroke="#000" stroke-width="4.6"/>
<circle cx="382.9" cy="1323" r="8.1" fill="none" stroke="#000" stroke-width="4.6"/>
<circle cx="376.3" cy="1339.4" r="8.1" fill="none" stroke="#000" stroke-width="4.6"/>
<circle cx="352" cy="1420.8" r="8.1" fill="none" stroke="#000" stroke-width="4.6"/>
<circle cx="547.7" cy="1392.4" r="8.1" fill="none" stroke="#000" stroke-width="4.6"/>
<text x="97.9" y="1450.5" font-size="34.5" transform="rotate(-90 97.9 1450.5)">Correct rate (<tspan fill="#3A9A2E">Mouse 5</tspan>)</text>
<text x="269.0" y="1579.5" font-size="33.8">SSIM index</text>
<path d="M841.6,1090.0 V1474.0 H1235.4" fill="none" stroke="#000" stroke-width="2.8"/>
<line x1="833.6" y1="1090.00" x2="841.6" y2="1090.00" stroke="#000" stroke-width="2.4"/>
<text transform="translate(819.60 1124.20) scale(0.975 1.055)" font-size="34.5" text-anchor="end">1</text>
<line x1="833.6" y1="1149.50" x2="841.6" y2="1149.50" stroke="#000" stroke-width="2.4"/>
<text transform="translate(819.60 1180.20) scale(0.975 1.055)" font-size="34.5" text-anchor="end">0.9</text>
<line x1="833.6" y1="1208.70" x2="841.6" y2="1208.70" stroke="#000" stroke-width="2.4"/>
<text transform="translate(819.60 1237.30) scale(0.975 1.055)" font-size="34.5" text-anchor="end">0.8</text>
<line x1="833.6" y1="1268.00" x2="841.6" y2="1268.00" stroke="#000" stroke-width="2.4"/>
<text transform="translate(819.60 1294.50) scale(0.975 1.055)" font-size="34.5" text-anchor="end">0.7</text>
<line x1="833.6" y1="1327.30" x2="841.6" y2="1327.30" stroke="#000" stroke-width="2.4"/>
<text transform="translate(819.60 1353.50) scale(0.975 1.055)" font-size="34.5" text-anchor="end">0.6</text>
<line x1="833.6" y1="1386.40" x2="841.6" y2="1386.40" stroke="#000" stroke-width="2.4"/>
<text transform="translate(819.60 1412.30) scale(0.975 1.055)" font-size="34.5" text-anchor="end">0.5</text>
<line x1="833.6" y1="1445.50" x2="841.6" y2="1445.50" stroke="#000" stroke-width="2.4"/>
<text transform="translate(819.60 1469.50) scale(0.975 1.055)" font-size="34.5" text-anchor="end">0.4</text>
<line x1="841.60" y1="1474.0" x2="841.60" y2="1482.0" stroke="#000" stroke-width="2.8"/>
<text transform="translate(838.20 1522.60) scale(0.975 1.055)" font-size="34.5" text-anchor="middle">0</text>
<line x1="1020.70" y1="1474.0" x2="1020.70" y2="1482.0" stroke="#000" stroke-width="2.8"/>
<text transform="translate(1024.50 1522.60) scale(0.975 1.055)" font-size="34.5" text-anchor="middle">0.5</text>
<line x1="1199.80" y1="1474.0" x2="1199.80" y2="1482.0" stroke="#000" stroke-width="2.8"/>
<text transform="translate(1200.20 1522.60) scale(0.975 1.055)" font-size="34.5" text-anchor="middle">1</text>
<circle cx="867.11" cy="1125.07" r="8.0" fill="none" stroke="#2D8FCF" stroke-width="4.8"/>
<circle cx="876.69" cy="1135.68" r="8.0" fill="none" stroke="#2D8FCF" stroke-width="4.8"/>
<circle cx="881.53" cy="1144.50" r="8.0" fill="none" stroke="#2D8FCF" stroke-width="4.8"/>
<circle cx="887.31" cy="1156.15" r="8.0" fill="none" stroke="#2D8FCF" stroke-width="4.8"/>
<circle cx="944.69" cy="1191.43" r="8.0" fill="none" stroke="#2D8FCF" stroke-width="4.8"/>
<circle cx="947.82" cy="1227.87" r="8.0" fill="none" stroke="#2D8FCF" stroke-width="4.8"/>
<circle cx="959.10" cy="1309.98" r="8.0" fill="none" stroke="#2D8FCF" stroke-width="4.8"/>
<circle cx="941.56" cy="1330.87" r="8.0" fill="none" stroke="#2D8FCF" stroke-width="4.8"/>
<circle cx="1038.01" cy="1347.15" r="8.0" fill="none" stroke="#2D8FCF" stroke-width="4.8"/>
<circle cx="1028.43" cy="1383.27" r="8.0" fill="none" stroke="#2D8FCF" stroke-width="4.8"/>
<circle cx="1199.42" cy="1419.71" r="8.0" fill="none" stroke="#2D8FCF" stroke-width="4.8"/>
<circle cx="1004.53" cy="1455.72" r="8.0" fill="none" stroke="#2D8FCF" stroke-width="4.8"/>
<circle cx="867.36" cy="1144.45" r="8.0" fill="none" stroke="#E0501E" stroke-width="4.8"/>
<circle cx="877.59" cy="1132.78" r="8.0" fill="none" stroke="#E0501E" stroke-width="4.8"/>
<circle cx="880.00" cy="1155.17" r="8.0" fill="none" stroke="#E0501E" stroke-width="4.8"/>
<circle cx="887.92" cy="1159.38" r="8.0" fill="none" stroke="#E0501E" stroke-width="4.8"/>
<circle cx="943.36" cy="1184.29" r="8.0" fill="none" stroke="#E0501E" stroke-width="4.8"/>
<circle cx="946.46" cy="1247.36" r="8.0" fill="none" stroke="#E0501E" stroke-width="4.8"/>
<circle cx="959.90" cy="1250.61" r="8.0" fill="none" stroke="#E0501E" stroke-width="4.8"/>
<circle cx="1035.59" cy="1310.32" r="8.0" fill="none" stroke="#E0501E" stroke-width="4.8"/>
<circle cx="940.25" cy="1360.77" r="8.0" fill="none" stroke="#E0501E" stroke-width="4.8"/>
<circle cx="1028.37" cy="1365.71" r="8.0" fill="none" stroke="#E0501E" stroke-width="4.8"/>
<circle cx="1003.21" cy="1397.14" r="8.0" fill="none" stroke="#E0501E" stroke-width="4.8"/>
<circle cx="1199.80" cy="1402.71" r="8.0" fill="none" stroke="#E0501E" stroke-width="4.8"/>
<circle cx="868.10" cy="1151.22" r="8.0" fill="none" stroke="#F0B22C" stroke-width="4.8"/>
<circle cx="887.50" cy="1171.31" r="8.0" fill="none" stroke="#F0B22C" stroke-width="4.8"/>
<circle cx="878.10" cy="1184.25" r="8.0" fill="none" stroke="#F0B22C" stroke-width="4.8"/>
<circle cx="881.30" cy="1218.22" r="8.0" fill="none" stroke="#F0B22C" stroke-width="4.8"/>
<circle cx="944.00" cy="1194.14" r="8.0" fill="none" stroke="#F0B22C" stroke-width="4.8"/>
<circle cx="948.10" cy="1227.17" r="8.0" fill="none" stroke="#F0B22C" stroke-width="4.8"/>
<circle cx="940.90" cy="1317.31" r="8.0" fill="none" stroke="#F0B22C" stroke-width="4.8"/>
<circle cx="960.40" cy="1349.60" r="8.0" fill="none" stroke="#F0B22C" stroke-width="4.8"/>
<circle cx="1036.00" cy="1319.94" r="8.0" fill="none" stroke="#F0B22C" stroke-width="4.8"/>
<circle cx="1029.70" cy="1363.49" r="8.0" fill="none" stroke="#F0B22C" stroke-width="4.8"/>
<circle cx="1004.30" cy="1396.52" r="8.0" fill="none" stroke="#F0B22C" stroke-width="4.8"/>
<circle cx="1199.80" cy="1363.49" r="8.0" fill="none" stroke="#F0B22C" stroke-width="4.8"/>
<circle cx="867.96" cy="1141.51" r="8.0" fill="none" stroke="#9B37C8" stroke-width="4.8"/>
<circle cx="877.35" cy="1142.47" r="8.0" fill="none" stroke="#9B37C8" stroke-width="4.8"/>
<circle cx="881.44" cy="1128.13" r="8.0" fill="none" stroke="#9B37C8" stroke-width="4.8"/>
<circle cx="889.93" cy="1138.11" r="8.0" fill="none" stroke="#9B37C8" stroke-width="4.8"/>
<circle cx="944.16" cy="1168.17" r="8.0" fill="none" stroke="#9B37C8" stroke-width="4.8"/>
<circle cx="947.25" cy="1191.85" r="8.0" fill="none" stroke="#9B37C8" stroke-width="4.8"/>
<circle cx="940.06" cy="1258.55" r="8.0" fill="none" stroke="#9B37C8" stroke-width="4.8"/>
<circle cx="959.83" cy="1305.18" r="8.0" fill="none" stroke="#9B37C8" stroke-width="4.8"/>
<circle cx="1028.74" cy="1305.18" r="8.0" fill="none" stroke="#9B37C8" stroke-width="4.8"/>
<circle cx="1035.03" cy="1325.89" r="8.0" fill="none" stroke="#9B37C8" stroke-width="4.8"/>
<circle cx="1003.67" cy="1419.14" r="8.0" fill="none" stroke="#9B37C8" stroke-width="4.8"/>
<circle cx="1198.60" cy="1415.84" r="8.0" fill="none" stroke="#9B37C8" stroke-width="4.8"/>
<circle cx="867.99" cy="1148.03" r="8.0" fill="none" stroke="#9CC43C" stroke-width="4.8"/>
<circle cx="875.89" cy="1165.54" r="8.0" fill="none" stroke="#9CC43C" stroke-width="4.8"/>
<circle cx="881.29" cy="1158.11" r="8.0" fill="none" stroke="#9CC43C" stroke-width="4.8"/>
<circle cx="886.99" cy="1175.51" r="8.0" fill="none" stroke="#9CC43C" stroke-width="4.8"/>
<circle cx="944.37" cy="1178.16" r="8.0" fill="none" stroke="#9CC43C" stroke-width="4.8"/>
<circle cx="947.57" cy="1230.79" r="8.0" fill="none" stroke="#9CC43C" stroke-width="4.8"/>
<circle cx="940.57" cy="1255.19" r="8.0" fill="none" stroke="#9CC43C" stroke-width="4.8"/>
<circle cx="960.17" cy="1308.87" r="8.0" fill="none" stroke="#9CC43C" stroke-width="4.8"/>
<circle cx="1035.25" cy="1308.87" r="8.0" fill="none" stroke="#9CC43C" stroke-width="4.8"/>
<circle cx="1028.65" cy="1326.27" r="8.0" fill="none" stroke="#9CC43C" stroke-width="4.8"/>
<circle cx="1004.35" cy="1412.63" r="8.0" fill="none" stroke="#9CC43C" stroke-width="4.8"/>
<circle cx="1200.00" cy="1382.50" r="8.0" fill="none" stroke="#9CC43C" stroke-width="4.8"/>
<path d="M841.60,1138.54 L843.39,1140.07 L845.18,1141.63 L846.97,1143.23 L848.76,1144.87 L850.56,1146.55 L852.35,1148.26 L854.14,1150.02 L855.93,1151.82 L857.72,1153.65 L859.51,1155.52 L861.30,1157.44 L863.09,1159.39 L864.88,1161.38 L866.67,1163.41 L868.47,1165.47 L870.26,1167.58 L872.05,1169.72 L873.84,1171.90 L875.63,1174.12 L877.42,1176.37 L879.21,1178.65 L881.00,1180.98 L882.79,1183.33 L884.58,1185.72 L886.38,1188.13 L888.17,1190.58 L889.96,1193.06 L891.75,1195.57 L893.54,1198.10 L895.33,1200.66 L897.12,1203.24 L898.91,1205.85 L900.70,1208.47 L902.49,1211.12 L904.28,1213.78 L906.08,1216.46 L907.87,1219.16 L909.66,1221.86 L911.45,1224.58 L913.24,1227.31 L915.03,1230.04 L916.82,1232.78 L918.61,1235.53 L920.40,1238.27 L922.20,1241.02 L923.99,1243.76 L925.78,1246.50 L927.57,1249.23 L929.36,1251.96 L931.15,1254.67 L932.94,1257.38 L934.73,1260.07 L936.52,1262.75 L938.31,1265.41 L940.11,1268.05 L941.90,1270.67 L943.69,1273.27 L945.48,1275.85 L947.27,1278.40 L949.06,1280.93 L950.85,1283.43 L952.64,1285.90 L954.43,1288.35 L956.22,1290.76 L958.01,1293.14 L959.81,1295.49 L961.60,1297.80 L963.39,1300.08 L965.18,1302.33 L966.97,1304.53 L968.76,1306.71 L970.55,1308.84 L972.34,1310.94 L974.13,1313.00 L975.92,1315.02 L977.72,1317.00 L979.51,1318.95 L981.30,1320.85 L983.09,1322.72 L984.88,1324.54 L986.67,1326.33 L988.46,1328.08 L990.25,1329.79 L992.04,1331.46 L993.84,1333.09 L995.63,1334.68 L997.42,1336.24 L999.21,1337.75 L1001.00,1339.23 L1002.79,1340.68 L1004.58,1342.08 L1006.37,1343.45 L1008.16,1344.78 L1009.95,1346.08 L1011.75,1347.35 L1013.54,1348.58 L1015.33,1349.77 L1017.12,1350.94 L1018.91,1352.07 L1020.70,1353.17 L1022.49,1354.23 L1024.28,1355.27 L1026.07,1356.28 L1027.86,1357.25 L1029.65,1358.20 L1031.45,1359.12 L1033.24,1360.02 L1035.03,1360.88 L1036.82,1361.72 L1038.61,1362.54 L1040.40,1363.33 L1042.19,1364.09 L1043.98,1364.83 L1045.77,1365.55 L1047.57,1366.24 L1049.36,1366.92 L1051.15,1367.57 L1052.94,1368.20 L1054.73,1368.81 L1056.52,1369.40 L1058.31,1369.97 L1060.10,1370.53 L1061.89,1371.06 L1063.68,1371.58 L1065.47,1372.08 L1067.27,1372.56 L1069.06,1373.03 L1070.85,1373.48 L1072.64,1373.92 L1074.43,1374.34 L1076.22,1374.75 L1078.01,1375.15 L1079.80,1375.53 L1081.59,1375.90 L1083.38,1376.25 L1085.18,1376.60 L1086.97,1376.93 L1088.76,1377.25 L1090.55,1377.56 L1092.34,1377.86 L1094.13,1378.15 L1095.92,1378.42 L1097.71,1378.69 L1099.50,1378.95 L1101.30,1379.20 L1103.09,1379.45 L1104.88,1379.68 L1106.67,1379.91 L1108.46,1380.12 L1110.25,1380.33 L1112.04,1380.54 L1113.83,1380.73 L1115.62,1380.92 L1117.41,1381.10 L1119.20,1381.28 L1121.00,1381.45 L1122.79,1381.61 L1124.58,1381.77 L1126.37,1381.92 L1128.16,1382.07 L1129.95,1382.21 L1131.74,1382.34 L1133.53,1382.48 L1135.32,1382.60 L1137.12,1382.72 L1138.91,1382.84 L1140.70,1382.96 L1142.49,1383.07 L1144.28,1383.17 L1146.07,1383.27 L1147.86,1383.37 L1149.65,1383.47 L1151.44,1383.56 L1153.23,1383.65 L1155.03,1383.73 L1156.82,1383.81 L1158.61,1383.89 L1160.40,1383.97 L1162.19,1384.04 L1163.98,1384.11 L1165.77,1384.18 L1167.56,1384.25 L1169.35,1384.31 L1171.14,1384.37 L1172.93,1384.43 L1174.73,1384.49 L1176.52,1384.54 L1178.31,1384.60 L1180.10,1384.65 L1181.89,1384.70 L1183.68,1384.74 L1185.47,1384.79 L1187.26,1384.83 L1189.05,1384.88 L1190.85,1384.92 L1192.64,1384.96 L1194.43,1384.99 L1196.22,1385.03 L1198.01,1385.06 L1199.80,1385.10 L1201.59,1385.13 L1203.38,1385.16 L1205.17,1385.19 L1206.96,1385.22 L1208.76,1385.25 L1210.55,1385.28 L1212.34,1385.30 L1214.13,1385.33 L1215.92,1385.35 L1217.71,1385.38 L1219.50,1385.40 L1221.29,1385.42 L1223.08,1385.44 L1224.87,1385.46 L1226.66,1385.48 L1228.46,1385.50 L1230.25,1385.52 L1232.04,1385.54 L1233.83,1385.55 L1235.62,1385.57" fill="none" stroke="#F5C832" stroke-width="3.2"/>
<path d="M841.60,1118.42 L843.39,1119.56 L845.18,1120.75 L846.97,1121.98 L848.76,1123.26 L850.56,1124.57 L852.35,1125.94 L854.14,1127.34 L855.93,1128.80 L857.72,1130.30 L859.51,1131.86 L861.30,1133.46 L863.09,1135.11 L864.88,1136.81 L866.67,1138.57 L868.47,1140.38 L870.26,1142.24 L872.05,1144.15 L873.84,1146.12 L875.63,1148.15 L877.42,1150.22 L879.21,1152.36 L881.00,1154.54 L882.79,1156.79 L884.58,1159.08 L886.38,1161.43 L888.17,1163.84 L889.96,1166.30 L891.75,1168.81 L893.54,1171.37 L895.33,1173.99 L897.12,1176.65 L898.91,1179.36 L900.70,1182.13 L902.49,1184.93 L904.28,1187.78 L906.08,1190.68 L907.87,1193.61 L909.66,1196.59 L911.45,1199.60 L913.24,1202.65 L915.03,1205.72 L916.82,1208.83 L918.61,1211.96 L920.40,1215.12 L922.20,1218.30 L923.99,1221.50 L925.78,1224.72 L927.57,1227.94 L929.36,1231.18 L931.15,1234.42 L932.94,1237.67 L934.73,1240.92 L936.52,1244.16 L938.31,1247.40 L940.11,1250.63 L941.90,1253.85 L943.69,1257.05 L945.48,1260.23 L947.27,1263.39 L949.06,1266.53 L950.85,1269.65 L952.64,1272.73 L954.43,1275.78 L956.22,1278.80 L958.01,1281.78 L959.81,1284.73 L961.60,1287.63 L963.39,1290.49 L965.18,1293.31 L966.97,1296.08 L968.76,1298.80 L970.55,1301.48 L972.34,1304.10 L974.13,1306.67 L975.92,1309.20 L977.72,1311.67 L979.51,1314.08 L981.30,1316.44 L983.09,1318.75 L984.88,1321.01 L986.67,1323.20 L988.46,1325.35 L990.25,1327.44 L992.04,1329.47 L993.84,1331.45 L995.63,1333.38 L997.42,1335.25 L999.21,1337.07 L1001.00,1338.83 L1002.79,1340.55 L1004.58,1342.21 L1006.37,1343.82 L1008.16,1345.38 L1009.95,1346.90 L1011.75,1348.36 L1013.54,1349.78 L1015.33,1351.15 L1017.12,1352.48 L1018.91,1353.76 L1020.70,1355.00 L1022.49,1356.20 L1024.28,1357.35 L1026.07,1358.47 L1027.86,1359.55 L1029.65,1360.58 L1031.45,1361.59 L1033.24,1362.55 L1035.03,1363.48 L1036.82,1364.38 L1038.61,1365.24 L1040.40,1366.07 L1042.19,1366.87 L1043.98,1367.64 L1045.77,1368.38 L1047.57,1369.10 L1049.36,1369.78 L1051.15,1370.44 L1052.94,1371.08 L1054.73,1371.69 L1056.52,1372.27 L1058.31,1372.84 L1060.10,1373.38 L1061.89,1373.90 L1063.68,1374.40 L1065.47,1374.88 L1067.27,1375.34 L1069.06,1375.78 L1070.85,1376.20 L1072.64,1376.61 L1074.43,1377.00 L1076.22,1377.38 L1078.01,1377.74 L1079.80,1378.08 L1081.59,1378.41 L1083.38,1378.73 L1085.18,1379.03 L1086.97,1379.33 L1088.76,1379.61 L1090.55,1379.88 L1092.34,1380.13 L1094.13,1380.38 L1095.92,1380.62 L1097.71,1380.84 L1099.50,1381.06 L1101.30,1381.27 L1103.09,1381.47 L1104.88,1381.66 L1106.67,1381.85 L1108.46,1382.02 L1110.25,1382.19 L1112.04,1382.35 L1113.83,1382.51 L1115.62,1382.66 L1117.41,1382.80 L1119.20,1382.93 L1121.00,1383.06 L1122.79,1383.19 L1124.58,1383.31 L1126.37,1383.42 L1128.16,1383.53 L1129.95,1383.64 L1131.74,1383.74 L1133.53,1383.83 L1135.32,1383.93 L1137.12,1384.02 L1138.91,1384.10 L1140.70,1384.18 L1142.49,1384.26 L1144.28,1384.33 L1146.07,1384.40 L1147.86,1384.47 L1149.65,1384.54 L1151.44,1384.60 L1153.23,1384.66 L1155.03,1384.72 L1156.82,1384.77 L1158.61,1384.82 L1160.40,1384.87 L1162.19,1384.92 L1163.98,1384.97 L1165.77,1385.01 L1167.56,1385.06 L1169.35,1385.10 L1171.14,1385.13 L1172.93,1385.17 L1174.73,1385.21 L1176.52,1385.24 L1178.31,1385.27 L1180.10,1385.30 L1181.89,1385.33 L1183.68,1385.36 L1185.47,1385.39 L1187.26,1385.42 L1189.05,1385.44 L1190.85,1385.47 L1192.64,1385.49 L1194.43,1385.51 L1196.22,1385.53 L1198.01,1385.55 L1199.80,1385.57 L1201.59,1385.59 L1203.38,1385.61 L1205.17,1385.62 L1206.96,1385.64 L1208.76,1385.66 L1210.55,1385.67 L1212.34,1385.68 L1214.13,1385.70 L1215.92,1385.71 L1217.71,1385.72 L1219.50,1385.73 L1221.29,1385.75 L1223.08,1385.76 L1224.87,1385.77 L1226.66,1385.78 L1228.46,1385.79 L1230.25,1385.80 L1232.04,1385.80 L1233.83,1385.81 L1235.62,1385.82" fill="none" stroke="#D8322A" stroke-width="3.2"/>
<path d="M841.60,1102.43 L843.39,1103.18 L845.18,1103.98 L846.97,1104.82 L848.76,1105.71 L850.56,1106.65 L852.35,1107.64 L854.14,1108.68 L855.93,1109.79 L857.72,1110.95 L859.51,1112.18 L861.30,1113.47 L863.09,1114.83 L864.88,1116.26 L866.67,1117.77 L868.47,1119.35 L870.26,1121.02 L872.05,1122.76 L873.84,1124.59 L875.63,1126.51 L877.42,1128.52 L879.21,1130.63 L881.00,1132.83 L882.79,1135.12 L884.58,1137.52 L886.38,1140.02 L888.17,1142.62 L889.96,1145.33 L891.75,1148.15 L893.54,1151.07 L895.33,1154.10 L897.12,1157.23 L898.91,1160.47 L900.70,1163.82 L902.49,1167.27 L904.28,1170.83 L906.08,1174.49 L907.87,1178.24 L909.66,1182.09 L911.45,1186.03 L913.24,1190.05 L915.03,1194.15 L916.82,1198.33 L918.61,1202.58 L920.40,1206.89 L922.20,1211.26 L923.99,1215.68 L925.78,1220.14 L927.57,1224.63 L929.36,1229.14 L931.15,1233.68 L932.94,1238.22 L934.73,1242.76 L936.52,1247.29 L938.31,1251.80 L940.11,1256.29 L941.90,1260.74 L943.69,1265.15 L945.48,1269.52 L947.27,1273.82 L949.06,1278.07 L950.85,1282.24 L952.64,1286.34 L954.43,1290.35 L956.22,1294.28 L958.01,1298.12 L959.81,1301.87 L961.60,1305.51 L963.39,1309.06 L965.18,1312.50 L966.97,1315.84 L968.76,1319.07 L970.55,1322.20 L972.34,1325.21 L974.13,1328.13 L975.92,1330.93 L977.72,1333.63 L979.51,1336.22 L981.30,1338.71 L983.09,1341.10 L984.88,1343.39 L986.67,1345.58 L988.46,1347.67 L990.25,1349.67 L992.04,1351.59 L993.84,1353.41 L995.63,1355.15 L997.42,1356.80 L999.21,1358.38 L1001.00,1359.88 L1002.79,1361.30 L1004.58,1362.66 L1006.37,1363.94 L1008.16,1365.16 L1009.95,1366.32 L1011.75,1367.42 L1013.54,1368.46 L1015.33,1369.45 L1017.12,1370.38 L1018.91,1371.26 L1020.70,1372.10 L1022.49,1372.89 L1024.28,1373.64 L1026.07,1374.34 L1027.86,1375.01 L1029.65,1375.64 L1031.45,1376.24 L1033.24,1376.80 L1035.03,1377.33 L1036.82,1377.84 L1038.61,1378.31 L1040.40,1378.76 L1042.19,1379.18 L1043.98,1379.57 L1045.77,1379.95 L1047.57,1380.30 L1049.36,1380.64 L1051.15,1380.95 L1052.94,1381.25 L1054.73,1381.52 L1056.52,1381.79 L1058.31,1382.03 L1060.10,1382.27 L1061.89,1382.49 L1063.68,1382.69 L1065.47,1382.89 L1067.27,1383.07 L1069.06,1383.24 L1070.85,1383.41 L1072.64,1383.56 L1074.43,1383.70 L1076.22,1383.84 L1078.01,1383.97 L1079.80,1384.09 L1081.59,1384.20 L1083.38,1384.31 L1085.18,1384.41 L1086.97,1384.50 L1088.76,1384.59 L1090.55,1384.67 L1092.34,1384.75 L1094.13,1384.83 L1095.92,1384.90 L1097.71,1384.96 L1099.50,1385.02 L1101.30,1385.08 L1103.09,1385.14 L1104.88,1385.19 L1106.67,1385.24 L1108.46,1385.28 L1110.25,1385.32 L1112.04,1385.36 L1113.83,1385.40 L1115.62,1385.44 L1117.41,1385.47 L1119.20,1385.50 L1121.00,1385.53 L1122.79,1385.56 L1124.58,1385.59 L1126.37,1385.61 L1128.16,1385.63 L1129.95,1385.66 L1131.74,1385.68 L1133.53,1385.70 L1135.32,1385.71 L1137.12,1385.73 L1138.91,1385.75 L1140.70,1385.76 L1142.49,1385.78 L1144.28,1385.79 L1146.07,1385.80 L1147.86,1385.81 L1149.65,1385.82 L1151.44,1385.83 L1153.23,1385.84 L1155.03,1385.85 L1156.82,1385.86 L1158.61,1385.87 L1160.40,1385.88 L1162.19,1385.89 L1163.98,1385.89 L1165.77,1385.90 L1167.56,1385.90 L1169.35,1385.91 L1171.14,1385.92 L1172.93,1385.92 L1174.73,1385.93 L1176.52,1385.93 L1178.31,1385.93 L1180.10,1385.94 L1181.89,1385.94 L1183.68,1385.95 L1185.47,1385.95 L1187.26,1385.95 L1189.05,1385.95 L1190.85,1385.96 L1192.64,1385.96 L1194.43,1385.96 L1196.22,1385.96 L1198.01,1385.97 L1199.80,1385.97 L1201.59,1385.97 L1203.38,1385.97 L1205.17,1385.97 L1206.96,1385.98 L1208.76,1385.98 L1210.55,1385.98 L1212.34,1385.98 L1214.13,1385.98 L1215.92,1385.98 L1217.71,1385.98 L1219.50,1385.98 L1221.29,1385.98 L1223.08,1385.99 L1224.87,1385.99 L1226.66,1385.99 L1228.46,1385.99 L1230.25,1385.99 L1232.04,1385.99 L1233.83,1385.99 L1235.62,1385.99" fill="none" stroke="#1F6DB5" stroke-width="3.2"/>
<path d="M841.60,1106.99 L843.39,1107.77 L845.18,1108.57 L846.97,1109.42 L848.76,1110.30 L850.56,1111.21 L852.35,1112.16 L854.14,1113.15 L855.93,1114.19 L857.72,1115.26 L859.51,1116.38 L861.30,1117.54 L863.09,1118.75 L864.88,1120.00 L866.67,1121.30 L868.47,1122.66 L870.26,1124.06 L872.05,1125.52 L873.84,1127.02 L875.63,1128.59 L877.42,1130.21 L879.21,1131.88 L881.00,1133.62 L882.79,1135.41 L884.58,1137.26 L886.38,1139.18 L888.17,1141.15 L889.96,1143.19 L891.75,1145.29 L893.54,1147.45 L895.33,1149.68 L897.12,1151.97 L898.91,1154.33 L900.70,1156.74 L902.49,1159.23 L904.28,1161.77 L906.08,1164.38 L907.87,1167.05 L909.66,1169.79 L911.45,1172.58 L913.24,1175.43 L915.03,1178.34 L916.82,1181.31 L918.61,1184.33 L920.40,1187.40 L922.20,1190.53 L923.99,1193.70 L925.78,1196.91 L927.57,1200.17 L929.36,1203.47 L931.15,1206.81 L932.94,1210.18 L934.73,1213.58 L936.52,1217.00 L938.31,1220.45 L940.11,1223.92 L941.90,1227.40 L943.69,1230.90 L945.48,1234.40 L947.27,1237.91 L949.06,1241.42 L950.85,1244.92 L952.64,1248.42 L954.43,1251.90 L956.22,1255.37 L958.01,1258.82 L959.81,1262.25 L961.60,1265.65 L963.39,1269.02 L965.18,1272.36 L966.97,1275.66 L968.76,1278.92 L970.55,1282.14 L972.34,1285.31 L974.13,1288.44 L975.92,1291.51 L977.72,1294.54 L979.51,1297.51 L981.30,1300.42 L983.09,1303.27 L984.88,1306.07 L986.67,1308.81 L988.46,1311.48 L990.25,1314.09 L992.04,1316.64 L993.84,1319.13 L995.63,1321.55 L997.42,1323.91 L999.21,1326.20 L1001.00,1328.44 L1002.79,1330.60 L1004.58,1332.71 L1006.37,1334.75 L1008.16,1336.72 L1009.95,1338.64 L1011.75,1340.50 L1013.54,1342.29 L1015.33,1344.03 L1017.12,1345.71 L1018.91,1347.33 L1020.70,1348.90 L1022.49,1350.41 L1024.28,1351.87 L1026.07,1353.27 L1027.86,1354.63 L1029.65,1355.93 L1031.45,1357.19 L1033.24,1358.40 L1035.03,1359.56 L1036.82,1360.68 L1038.61,1361.76 L1040.40,1362.79 L1042.19,1363.79 L1043.98,1364.74 L1045.77,1365.66 L1047.57,1366.54 L1049.36,1367.38 L1051.15,1368.19 L1052.94,1368.97 L1054.73,1369.72 L1056.52,1370.43 L1058.31,1371.11 L1060.10,1371.77 L1061.89,1372.40 L1063.68,1373.00 L1065.47,1373.58 L1067.27,1374.13 L1069.06,1374.66 L1070.85,1375.17 L1072.64,1375.65 L1074.43,1376.11 L1076.22,1376.56 L1078.01,1376.98 L1079.80,1377.39 L1081.59,1377.77 L1083.38,1378.14 L1085.18,1378.50 L1086.97,1378.84 L1088.76,1379.16 L1090.55,1379.47 L1092.34,1379.77 L1094.13,1380.05 L1095.92,1380.32 L1097.71,1380.58 L1099.50,1380.83 L1101.30,1381.06 L1103.09,1381.29 L1104.88,1381.50 L1106.67,1381.71 L1108.46,1381.90 L1110.25,1382.09 L1112.04,1382.27 L1113.83,1382.44 L1115.62,1382.60 L1117.41,1382.76 L1119.20,1382.91 L1121.00,1383.05 L1122.79,1383.18 L1124.58,1383.31 L1126.37,1383.44 L1128.16,1383.55 L1129.95,1383.67 L1131.74,1383.77 L1133.53,1383.88 L1135.32,1383.97 L1137.12,1384.07 L1138.91,1384.16 L1140.70,1384.24 L1142.49,1384.32 L1144.28,1384.40 L1146.07,1384.47 L1147.86,1384.54 L1149.65,1384.61 L1151.44,1384.67 L1153.23,1384.74 L1155.03,1384.79 L1156.82,1384.85 L1158.61,1384.90 L1160.40,1384.95 L1162.19,1385.00 L1163.98,1385.05 L1165.77,1385.09 L1167.56,1385.13 L1169.35,1385.17 L1171.14,1385.21 L1172.93,1385.25 L1174.73,1385.28 L1176.52,1385.32 L1178.31,1385.35 L1180.10,1385.38 L1181.89,1385.41 L1183.68,1385.43 L1185.47,1385.46 L1187.26,1385.48 L1189.05,1385.51 L1190.85,1385.53 L1192.64,1385.55 L1194.43,1385.57 L1196.22,1385.59 L1198.01,1385.61 L1199.80,1385.63 L1201.59,1385.65 L1203.38,1385.66 L1205.17,1385.68 L1206.96,1385.69 L1208.76,1385.71 L1210.55,1385.72 L1212.34,1385.73 L1214.13,1385.75 L1215.92,1385.76 L1217.71,1385.77 L1219.50,1385.78 L1221.29,1385.79 L1223.08,1385.80 L1224.87,1385.81 L1226.66,1385.82 L1228.46,1385.83 L1230.25,1385.83 L1232.04,1385.84 L1233.83,1385.85 L1235.62,1385.86" fill="none" stroke="#5A2D9C" stroke-width="3.2"/>
<path d="M841.60,1124.93 L843.39,1126.10 L845.18,1127.30 L846.97,1128.54 L848.76,1129.82 L850.56,1131.13 L852.35,1132.47 L854.14,1133.86 L855.93,1135.28 L857.72,1136.73 L859.51,1138.23 L861.30,1139.76 L863.09,1141.33 L864.88,1142.94 L866.67,1144.59 L868.47,1146.28 L870.26,1148.01 L872.05,1149.78 L873.84,1151.58 L875.63,1153.43 L877.42,1155.32 L879.21,1157.25 L881.00,1159.22 L882.79,1161.23 L884.58,1163.27 L886.38,1165.36 L888.17,1167.48 L889.96,1169.65 L891.75,1171.85 L893.54,1174.09 L895.33,1176.36 L897.12,1178.67 L898.91,1181.02 L900.70,1183.40 L902.49,1185.81 L904.28,1188.26 L906.08,1190.73 L907.87,1193.24 L909.66,1195.77 L911.45,1198.34 L913.24,1200.92 L915.03,1203.53 L916.82,1206.17 L918.61,1208.83 L920.40,1211.50 L922.20,1214.20 L923.99,1216.91 L925.78,1219.63 L927.57,1222.37 L929.36,1225.12 L931.15,1227.87 L932.94,1230.64 L934.73,1233.41 L936.52,1236.18 L938.31,1238.96 L940.11,1241.73 L941.90,1244.50 L943.69,1247.27 L945.48,1250.03 L947.27,1252.78 L949.06,1255.52 L950.85,1258.25 L952.64,1260.96 L954.43,1263.66 L956.22,1266.34 L958.01,1269.01 L959.81,1271.65 L961.60,1274.27 L963.39,1276.86 L965.18,1279.43 L966.97,1281.98 L968.76,1284.49 L970.55,1286.98 L972.34,1289.43 L974.13,1291.85 L975.92,1294.24 L977.72,1296.60 L979.51,1298.92 L981.30,1301.21 L983.09,1303.46 L984.88,1305.67 L986.67,1307.85 L988.46,1309.98 L990.25,1312.08 L992.04,1314.14 L993.84,1316.16 L995.63,1318.14 L997.42,1320.08 L999.21,1321.98 L1001.00,1323.85 L1002.79,1325.67 L1004.58,1327.45 L1006.37,1329.19 L1008.16,1330.89 L1009.95,1332.55 L1011.75,1334.17 L1013.54,1335.76 L1015.33,1337.30 L1017.12,1338.81 L1018.91,1340.28 L1020.70,1341.71 L1022.49,1343.10 L1024.28,1344.46 L1026.07,1345.78 L1027.86,1347.06 L1029.65,1348.31 L1031.45,1349.53 L1033.24,1350.71 L1035.03,1351.86 L1036.82,1352.98 L1038.61,1354.06 L1040.40,1355.11 L1042.19,1356.13 L1043.98,1357.13 L1045.77,1358.09 L1047.57,1359.02 L1049.36,1359.93 L1051.15,1360.80 L1052.94,1361.66 L1054.73,1362.48 L1056.52,1363.28 L1058.31,1364.05 L1060.10,1364.80 L1061.89,1365.53 L1063.68,1366.23 L1065.47,1366.91 L1067.27,1367.57 L1069.06,1368.21 L1070.85,1368.82 L1072.64,1369.42 L1074.43,1370.00 L1076.22,1370.56 L1078.01,1371.10 L1079.80,1371.62 L1081.59,1372.12 L1083.38,1372.61 L1085.18,1373.08 L1086.97,1373.54 L1088.76,1373.98 L1090.55,1374.40 L1092.34,1374.81 L1094.13,1375.21 L1095.92,1375.59 L1097.71,1375.96 L1099.50,1376.32 L1101.30,1376.66 L1103.09,1377.00 L1104.88,1377.32 L1106.67,1377.63 L1108.46,1377.93 L1110.25,1378.22 L1112.04,1378.50 L1113.83,1378.77 L1115.62,1379.03 L1117.41,1379.28 L1119.20,1379.52 L1121.00,1379.75 L1122.79,1379.98 L1124.58,1380.19 L1126.37,1380.40 L1128.16,1380.61 L1129.95,1380.80 L1131.74,1380.99 L1133.53,1381.17 L1135.32,1381.35 L1137.12,1381.51 L1138.91,1381.68 L1140.70,1381.83 L1142.49,1381.99 L1144.28,1382.13 L1146.07,1382.27 L1147.86,1382.41 L1149.65,1382.54 L1151.44,1382.66 L1153.23,1382.79 L1155.03,1382.90 L1156.82,1383.01 L1158.61,1383.12 L1160.40,1383.23 L1162.19,1383.33 L1163.98,1383.43 L1165.77,1383.52 L1167.56,1383.61 L1169.35,1383.70 L1171.14,1383.78 L1172.93,1383.86 L1174.73,1383.94 L1176.52,1384.02 L1178.31,1384.09 L1180.10,1384.16 L1181.89,1384.23 L1183.68,1384.29 L1185.47,1384.35 L1187.26,1384.41 L1189.05,1384.47 L1190.85,1384.53 L1192.64,1384.58 L1194.43,1384.63 L1196.22,1384.68 L1198.01,1384.73 L1199.80,1384.78 L1201.59,1384.82 L1203.38,1384.87 L1205.17,1384.91 L1206.96,1384.95 L1208.76,1384.99 L1210.55,1385.02 L1212.34,1385.06 L1214.13,1385.09 L1215.92,1385.13 L1217.71,1385.16 L1219.50,1385.19 L1221.29,1385.22 L1223.08,1385.25 L1224.87,1385.28 L1226.66,1385.30 L1228.46,1385.33 L1230.25,1385.35 L1232.04,1385.38 L1233.83,1385.40 L1235.62,1385.42" fill="none" stroke="#2F9A3C" stroke-width="3.2"/>
<text x="1104.3" y="1140.8" font-size="34.5" fill="#2B8AC6">Mouse 1</text>
<text x="1104.3" y="1179.8" font-size="34.5" fill="#E0521E">Mouse 2</text>
<text x="1104.3" y="1218.7" font-size="34.5" fill="#F5C828">Mouse 3</text>
<text x="1104.3" y="1257.6" font-size="34.5" fill="#B04CBE">Mouse 4</text>
<text x="1104.3" y="1296.6" font-size="34.5" fill="#3A9A2E">Mouse 5</text>
<text font-size="34.55" transform="translate(750.2 1368.2) rotate(-90) scale(1 1.08)">Correct rate</text>
<text x="935.5" y="1593.5" font-size="33.8">SSIM index</text>
<path d="M1621.1,52 V434.8 H1819.1" fill="none" stroke="#000" stroke-width="2.7"/>
<line x1="1621.1" y1="434.8" x2="1614" y2="434.8" stroke="#000" stroke-width="2.7"/>
<line x1="1613.6" y1="127.20" x2="1621.1" y2="127.20" stroke="#000" stroke-width="2.4"/>
<text transform="translate(1601.00 136.00) scale(0.975 1.055)" font-size="34.5" text-anchor="end">0.4</text>
<line x1="1613.6" y1="204.10" x2="1621.1" y2="204.10" stroke="#000" stroke-width="2.4"/>
<text transform="translate(1601.00 214.30) scale(0.975 1.055)" font-size="34.5" text-anchor="end">0.3</text>
<line x1="1613.6" y1="281.00" x2="1621.1" y2="281.00" stroke="#000" stroke-width="2.4"/>
<text transform="translate(1601.00 290.60) scale(0.975 1.055)" font-size="34.5" text-anchor="end">0.2</text>
<line x1="1613.6" y1="357.90" x2="1621.1" y2="357.90" stroke="#000" stroke-width="2.4"/>
<text transform="translate(1601.00 369.00) scale(0.975 1.055)" font-size="34.5" text-anchor="end">0.1</text>
<text transform="translate(1601.00 446.50) scale(0.975 1.055)" font-size="34.5" text-anchor="end">0</text>
<circle cx="1723.4" cy="175.3" r="7.9" fill="none" stroke="#000" stroke-width="4.4"/>
<circle cx="1717.4" cy="188.4" r="7.9" fill="none" stroke="#000" stroke-width="4.4"/>
<circle cx="1726.9" cy="204.2" r="7.9" fill="none" stroke="#000" stroke-width="4.4"/>
<circle cx="1713.6" cy="214" r="7.9" fill="none" stroke="#000" stroke-width="4.4"/>
<circle cx="1729.7" cy="226.3" r="7.9" fill="none" stroke="#000" stroke-width="4.4"/>
<line x1="1700.3" y1="202" x2="1740" y2="202" stroke="#000" stroke-width="5.5"/>
<text x="1519.3" y="414" font-size="33.8" transform="rotate(-90 1519.3 414)">SSIM threshold (70%)</text>
<path d="M1505.6,549.2 V1480.2 H1900" fill="none" stroke="#000" stroke-width="3.0"/>
<line x1="1497.6" y1="549.20" x2="1505.6" y2="549.20" stroke="#000" stroke-width="2.8"/>
<text transform="translate(1486.00 561.60) scale(0.975 1.055)" font-size="34.5" text-anchor="end">1</text>
<line x1="1497.6" y1="704.25" x2="1505.6" y2="704.25" stroke="#000" stroke-width="2.8"/>
<text transform="translate(1486.00 716.65) scale(0.975 1.055)" font-size="34.5" text-anchor="end">0.9</text>
<line x1="1497.6" y1="859.30" x2="1505.6" y2="859.30" stroke="#000" stroke-width="2.8"/>
<text transform="translate(1486.00 871.70) scale(0.975 1.055)" font-size="34.5" text-anchor="end">0.8</text>
<line x1="1497.6" y1="1014.35" x2="1505.6" y2="1014.35" stroke="#000" stroke-width="2.8"/>
<text transform="translate(1486.00 1026.75) scale(0.975 1.055)" font-size="34.5" text-anchor="end">0.7</text>
<line x1="1497.6" y1="1169.40" x2="1505.6" y2="1169.40" stroke="#000" stroke-width="2.8"/>
<text transform="translate(1486.00 1181.80) scale(0.975 1.055)" font-size="34.5" text-anchor="end">0.6</text>
<line x1="1497.6" y1="1324.45" x2="1505.6" y2="1324.45" stroke="#000" stroke-width="2.8"/>
<text transform="translate(1486.00 1336.85) scale(0.975 1.055)" font-size="34.5" text-anchor="end">0.5</text>
<line x1="1497.6" y1="1479.50" x2="1505.6" y2="1479.50" stroke="#000" stroke-width="2.8"/>
<text transform="translate(1486.00 1491.90) scale(0.975 1.055)" font-size="34.5" text-anchor="end">0.4</text>
<line x1="1505.60" y1="1480.2" x2="1505.60" y2="1490.2" stroke="#000" stroke-width="2.8"/>
<text transform="translate(1500.80 1533.50) scale(0.975 1.055)" font-size="34.5" text-anchor="middle">0</text>
<line x1="1684.55" y1="1480.2" x2="1684.55" y2="1490.2" stroke="#000" stroke-width="2.8"/>
<text transform="translate(1687.60 1533.50) scale(0.975 1.055)" font-size="34.5" text-anchor="middle">0.5</text>
<line x1="1863.50" y1="1480.2" x2="1863.50" y2="1490.2" stroke="#000" stroke-width="2.8"/>
<text transform="translate(1864.70 1533.50) scale(0.975 1.055)" font-size="34.5" text-anchor="middle">1</text>
<path d="M1505.60,616.61 L1507.23,619.18 L1508.85,621.83 L1510.48,624.57 L1512.11,627.40 L1513.73,630.33 L1515.36,633.35 L1516.99,636.47 L1518.61,639.70 L1520.24,643.02 L1521.87,646.45 L1523.49,649.99 L1525.12,653.63 L1526.75,657.39 L1528.38,661.26 L1530.00,665.24 L1531.63,669.34 L1533.26,673.56 L1534.88,677.89 L1536.51,682.35 L1538.14,686.92 L1539.76,691.62 L1541.39,696.44 L1543.02,701.39 L1544.64,706.46 L1546.27,711.66 L1547.90,716.98 L1549.52,722.43 L1551.15,728.00 L1552.78,733.69 L1554.40,739.51 L1556.03,745.45 L1557.66,751.51 L1559.28,757.70 L1560.91,764.00 L1562.54,770.41 L1564.17,776.94 L1565.79,783.59 L1567.42,790.34 L1569.05,797.19 L1570.67,804.15 L1572.30,811.20 L1573.93,818.35 L1575.55,825.59 L1577.18,832.92 L1578.81,840.32 L1580.43,847.81 L1582.06,855.36 L1583.69,862.98 L1585.31,870.65 L1586.94,878.38 L1588.57,886.16 L1590.19,893.98 L1591.82,901.84 L1593.45,909.73 L1595.07,917.63 L1596.70,925.56 L1598.33,933.49 L1599.96,941.43 L1601.58,949.36 L1603.21,957.28 L1604.84,965.19 L1606.46,973.07 L1608.09,980.92 L1609.72,988.73 L1611.34,996.51 L1612.97,1004.23 L1614.60,1011.90 L1616.22,1019.51 L1617.85,1027.05 L1619.48,1034.52 L1621.10,1041.91 L1622.73,1049.22 L1624.36,1056.45 L1625.98,1063.58 L1627.61,1070.62 L1629.24,1077.56 L1630.86,1084.40 L1632.49,1091.13 L1634.12,1097.76 L1635.75,1104.27 L1637.37,1110.67 L1639.00,1116.95 L1640.63,1123.11 L1642.25,1129.16 L1643.88,1135.08 L1645.51,1140.88 L1647.13,1146.55 L1648.76,1152.10 L1650.39,1157.53 L1652.01,1162.83 L1653.64,1168.01 L1655.27,1173.06 L1656.89,1177.98 L1658.52,1182.79 L1660.15,1187.47 L1661.77,1192.02 L1663.40,1196.46 L1665.03,1200.78 L1666.65,1204.97 L1668.28,1209.05 L1669.91,1213.02 L1671.54,1216.87 L1673.16,1220.61 L1674.79,1224.24 L1676.42,1227.75 L1678.04,1231.17 L1679.67,1234.48 L1681.30,1237.68 L1682.92,1240.79 L1684.55,1243.80 L1686.18,1246.71 L1687.80,1249.52 L1689.43,1252.25 L1691.06,1254.89 L1692.68,1257.44 L1694.31,1259.90 L1695.94,1262.28 L1697.56,1264.59 L1699.19,1266.81 L1700.82,1268.96 L1702.44,1271.03 L1704.07,1273.03 L1705.70,1274.96 L1707.33,1276.83 L1708.95,1278.62 L1710.58,1280.36 L1712.21,1282.03 L1713.83,1283.64 L1715.46,1285.20 L1717.09,1286.70 L1718.71,1288.14 L1720.34,1289.53 L1721.97,1290.87 L1723.59,1292.16 L1725.22,1293.41 L1726.85,1294.60 L1728.47,1295.76 L1730.10,1296.87 L1731.73,1297.94 L1733.35,1298.96 L1734.98,1299.95 L1736.61,1300.91 L1738.23,1301.82 L1739.86,1302.71 L1741.49,1303.56 L1743.12,1304.37 L1744.74,1305.16 L1746.37,1305.91 L1748.00,1306.64 L1749.62,1307.34 L1751.25,1308.01 L1752.88,1308.66 L1754.50,1309.28 L1756.13,1309.88 L1757.76,1310.45 L1759.38,1311.00 L1761.01,1311.53 L1762.64,1312.04 L1764.26,1312.53 L1765.89,1313.00 L1767.52,1313.46 L1769.14,1313.89 L1770.77,1314.31 L1772.40,1314.71 L1774.02,1315.10 L1775.65,1315.47 L1777.28,1315.82 L1778.91,1316.17 L1780.53,1316.50 L1782.16,1316.81 L1783.79,1317.12 L1785.41,1317.41 L1787.04,1317.69 L1788.67,1317.96 L1790.29,1318.21 L1791.92,1318.46 L1793.55,1318.70 L1795.17,1318.93 L1796.80,1319.15 L1798.43,1319.36 L1800.05,1319.56 L1801.68,1319.76 L1803.31,1319.95 L1804.93,1320.13 L1806.56,1320.30 L1808.19,1320.46 L1809.81,1320.62 L1811.44,1320.78 L1813.07,1320.92 L1814.70,1321.06 L1816.32,1321.20 L1817.95,1321.33 L1819.58,1321.45 L1821.20,1321.57 L1822.83,1321.69 L1824.46,1321.80 L1826.08,1321.91 L1827.71,1322.01 L1829.34,1322.10 L1830.96,1322.20 L1832.59,1322.29 L1834.22,1322.38 L1835.84,1322.46 L1837.47,1322.54 L1839.10,1322.61 L1840.72,1322.69 L1842.35,1322.76 L1843.98,1322.83 L1845.60,1322.89 L1847.23,1322.95 L1848.86,1323.01 L1850.49,1323.07 L1852.11,1323.13 L1853.74,1323.18 L1855.37,1323.23 L1856.99,1323.28 L1858.62,1323.33 L1860.25,1323.37 L1861.87,1323.41 L1863.50,1323.46" fill="none" stroke="#000" stroke-width="3.5"/>
<path d="M1532.2,678.0 V693.3 M1525.6000000000001,678.0 H1538.8 M1525.6000000000001,693.3 H1538.8" fill="none" stroke="#C0562E" stroke-width="2.8"/>
<circle cx="1532.2" cy="685.4" r="4.2" fill="#C0562E"/>
<text x="1536.2" y="664.5" font-size="34.5" fill="#C0562E">#1</text>
<path d="M1540.1,695.0 V728.3 M1533.5,695.0 H1546.6999999999998 M1533.5,728.3 H1546.6999999999998" fill="none" stroke="#9C8A78" stroke-width="2.8"/>
<circle cx="1540.1" cy="712.5" r="4.2" fill="#9C8A78"/>
<text x="1566.0" y="704.6" font-size="34.5" fill="#9C8A78">#2</text>
<path d="M1545.2,708.0 V759.4 M1538.6000000000001,708.0 H1551.8 M1538.6000000000001,759.4 H1551.8" fill="none" stroke="#A87BA8" stroke-width="2.8"/>
<circle cx="1545.2" cy="734.0" r="4.2" fill="#A87BA8"/>
<text x="1518.8" y="790.5" font-size="34.5" fill="#A87BA8">#3</text>
<path d="M1551.4,717.0 V741.3 M1544.8000000000002,717.0 H1558.0 M1544.8000000000002,741.3 H1558.0" fill="none" stroke="#3BB4D6" stroke-width="2.8"/>
<circle cx="1551.4" cy="729.2" r="4.2" fill="#3BB4D6"/>
<text x="1570.3" y="740.7" font-size="34.5" fill="#3BB4D6">#4</text>
<path d="M1605.5,1075.8 V1146.3 M1598.9,1075.8 H1612.1 M1598.9,1146.3 H1612.1" fill="none" stroke="#C4532C" stroke-width="2.8"/>
<circle cx="1605.5" cy="1110.7" r="4.2" fill="#C4532C"/>
<text x="1593.6" y="1124.3" font-size="34.5" text-anchor="end" fill="#C4532C">#5</text>
<path d="M1609.0,787.0 V802.9 M1602.4,787.0 H1615.6 M1602.4,802.9 H1615.6" fill="none" stroke="#EF7D22" stroke-width="2.8"/>
<circle cx="1609.0" cy="795.0" r="4.2" fill="#EF7D22"/>
<text x="1620.4" y="806.3" font-size="34.5" fill="#EF7D22">#6</text>
<path d="M1611.0,886.6 V918.5 M1604.4,886.6 H1617.6 M1604.4,918.5 H1617.6" fill="none" stroke="#CDBFAA" stroke-width="2.8"/>
<circle cx="1611.0" cy="902.0" r="4.2" fill="#CDBFAA"/>
<text x="1620.7" y="914.2" font-size="34.5" fill="#CDBFAA">#7</text>
<path d="M1623.4,1088.1 V1142.4 M1616.8000000000002,1088.1 H1630.0 M1616.8000000000002,1142.4 H1630.0" fill="none" stroke="#A67BA0" stroke-width="2.8"/>
<circle cx="1623.4" cy="1115.4" r="4.2" fill="#A67BA0"/>
<text x="1644.9" y="1128.3" font-size="34.5" fill="#A67BA0">#8</text>
<path d="M1668.7,1384.8 V1422.7 M1662.1000000000001,1384.8 H1675.3 M1662.1000000000001,1422.7 H1675.3" fill="none" stroke="#A37C9E" stroke-width="2.8"/>
<circle cx="1668.7" cy="1403.6" r="4.2" fill="#A37C9E"/>
<text x="1684.2" y="1415.2" font-size="34.5" fill="#A37C9E">#9</text>
<path d="M1692.2,1202.6 V1252.7 M1685.6000000000001,1202.6 H1698.8 M1685.6000000000001,1252.7 H1698.8" fill="none" stroke="#3CB6D4" stroke-width="2.8"/>
<circle cx="1692.2" cy="1227.4" r="4.2" fill="#3CB6D4"/>
<text x="1707.8" y="1239.9" font-size="34.5" fill="#3CB6D4">#10</text>
<path d="M1700.1,1145.9 V1170.4 M1693.5,1145.9 H1706.6999999999998 M1693.5,1170.4 H1706.6999999999998" fill="none" stroke="#9C8872" stroke-width="2.8"/>
<circle cx="1700.1" cy="1158.2" r="4.2" fill="#9C8872"/>
<text x="1714.4" y="1169.4" font-size="34.5" fill="#9C8872">#11</text>
<path d="M1864.1,1336.3 V1373.5 M1857.5,1336.3 H1870.6999999999998 M1857.5,1373.5 H1870.6999999999998" fill="none" stroke="#F0A030" stroke-width="2.8"/>
<circle cx="1864.1" cy="1354.3" r="4.2" fill="#F0A030"/>
<text x="1832.0" y="1415.2" font-size="34.5" fill="#F0A030">#12</text>
<text x="1667.5" y="620" font-size="34.5"># Image ID</text>
<text x="1623.8" y="647.9" font-size="27.2" fill="#999999" textLength="262.5" lengthAdjust="spacingAndGlyphs">Arbitrary color codes</text>
<text font-size="34.7" transform="translate(1405.6 1120.8) rotate(-90) scale(1 1.05)">Correct rate</text>
<text x="1598.8" y="1592.0" font-size="33.8">SSIM index</text>
<text x="-3.2" y="24" font-size="45" font-weight="bold">a</text>
<text x="682.1" y="1075" font-size="45" font-weight="bold">b</text>
<text x="1377.5" y="24.4" font-size="45" font-weight="bold">c</text>
<text x="1377.5" y="525.3" font-size="45" font-weight="bold">d</text>
</svg></body></html>
